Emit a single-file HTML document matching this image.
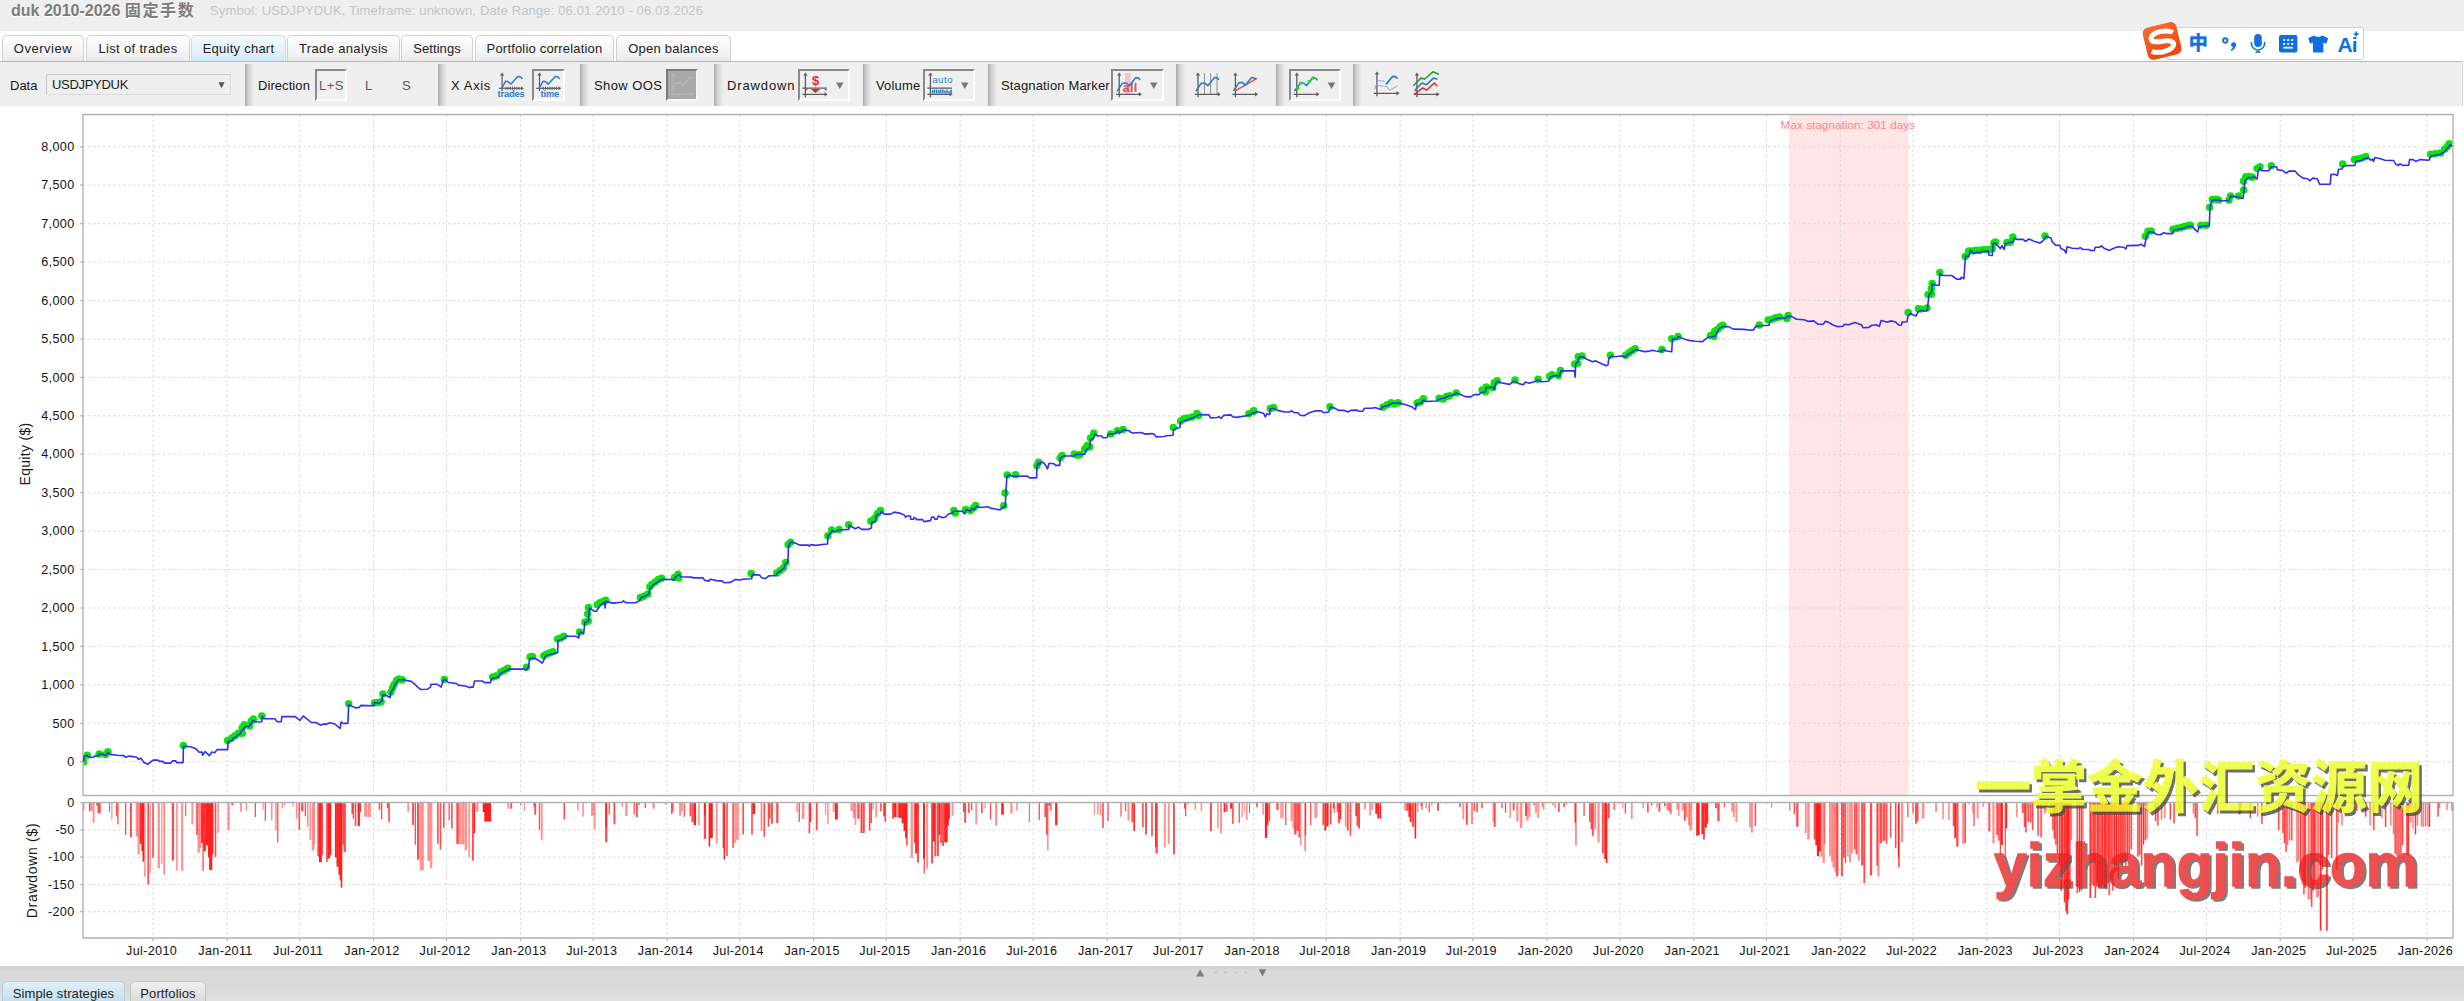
<!DOCTYPE html>
<html><head><meta charset="utf-8"><title>Equity chart</title>
<style>
html,body{margin:0;padding:0;}
body{width:2464px;height:1001px;overflow:hidden;background:#fff;position:relative;font-family:"Liberation Sans","Noto Sans CJK SC",sans-serif;font-size:13px;color:#1c1c1c;}
.abs{position:absolute;}
#titlebar{left:0;top:0;width:2464px;height:31px;background:#efefef;}
#title{left:11px;top:-1px;font-weight:bold;font-size:16px;color:#7c7c7c;line-height:21px;white-space:nowrap;text-shadow:0 1px 0 #fff;}
#title span{font-family:"Noto Sans CJK SC",sans-serif;font-weight:bold;letter-spacing:1.6px;font-size:16px}
#sub{left:210px;top:1.5px;letter-spacing:0.14px;font-size:13px;color:#c4c4c4;line-height:17px;white-space:nowrap;}
.tab{top:35px;height:27px;border:1px solid #d0d0d0;border-bottom:none;border-radius:5px 5px 0 0;background:linear-gradient(#fefefe,#f4f4f4 60%,#e9e9e9);box-sizing:border-box;text-align:center;line-height:26px;font-size:13px;color:#222;white-space:nowrap;}
.tab.act{background:linear-gradient(#f3fafe,#def0fb 70%,#cfe9f9);border-color:#c5dcea;}
#toolbar{left:0;top:61px;width:2463px;height:45px;background:#efefef;border-top:1.5px solid #b9b9b9;border-right:1.5px solid #d6d6d6;box-sizing:border-box;}
.lbl{top:78px;line-height:16px;font-size:13px;color:#161616;white-space:nowrap;letter-spacing:0.1px;}
.sep{top:64px;width:9px;height:42px;background:linear-gradient(90deg,#a9a9a9,#cfcfcf 35%,#efefef);}
.btn{top:69px;height:32px;box-sizing:border-box;border:2px solid;border-color:#8a8a8a #fff #fff #8a8a8a;background:#f0f0f0;}
.ico{top:71px;}
#combo{left:46px;top:74px;width:185px;height:21px;box-sizing:border-box;border:1px solid;border-color:#c9c9c9 #dedede #dcdcdc #c9c9c9;background:#efefef;line-height:19px;padding-left:5px;font-size:13px;letter-spacing:-0.3px;}
#bottom{left:0;top:966px;width:2464px;height:35px;background:linear-gradient(#cfcfcf,#d9d9d9 12%,#dadada 60%,#e1e1e1);}
.btab{top:981px;height:22px;box-sizing:border-box;border:1px solid #c2c2c2;border-radius:5px 5px 0 0;background:linear-gradient(#f0f0f0,#dcdcdc);font-size:13px;line-height:24px;text-align:center;color:#222;white-space:nowrap;}
.btab.act{background:linear-gradient(#e1f0f8,#c3deee);border-color:#b5cbd8;}
</style></head><body>
<div id="titlebar" class="abs"></div>
<div id="title" class="abs">duk 2010-2026 <span>固定手数</span></div>
<div id="sub" class="abs">Symbol: USDJPYDUK, Timeframe: unknown, Date Range: 06.01.2010 - 06.03.2026</div>

<div class="abs tab" style="left:2px;width:82px;letter-spacing:0.54px">Overview</div>
<div class="abs tab" style="left:86px;width:104px;letter-spacing:0.33px">List of trades</div>
<div class="abs tab act" style="left:191px;width:95px;letter-spacing:0.25px">Equity chart</div>
<div class="abs tab" style="left:287px;width:113px;letter-spacing:0.35px">Trade analysis</div>
<div class="abs tab" style="left:401px;width:72px;letter-spacing:0.08px">Settings</div>
<div class="abs tab" style="left:475px;width:139px;letter-spacing:0.18px">Portfolio correlation</div>
<div class="abs tab" style="left:616px;width:115px;letter-spacing:0.23px">Open balances</div>

<div id="toolbar" class="abs"></div>
<div class="abs lbl" style="left:10px;letter-spacing:0.00px">Data</div>
<div id="combo" class="abs">USDJPYDUK<span class="abs" style="right:4px;top:0;font-size:10px;color:#555">▼</span></div>
<div class="abs sep" style="left:245px"></div>
<div class="abs lbl" style="left:258px;letter-spacing:0.07px">Direction</div>
<div class="abs btn" style="left:315px;width:32px"></div>
<div class="abs lbl" style="left:319px;color:#5a5a5a;letter-spacing:0.5px">L+S</div>
<div class="abs lbl" style="left:365px;color:#5a5a5a">L</div>
<div class="abs lbl" style="left:402px;color:#5a5a5a">S</div>
<div class="abs sep" style="left:438px"></div>
<div class="abs lbl" style="left:451px;letter-spacing:0.65px">X Axis</div>
<!--ICON_TRADES-->
<div class="abs btn" style="left:532px;width:33px"></div>
<!--ICON_TIME-->
<div class="abs sep" style="left:580px"></div>
<div class="abs lbl" style="left:594px;letter-spacing:0.40px">Show OOS</div>
<div class="abs btn" style="left:666px;width:32px;background:#a9a9a9;border-color:#7b7b7b #f6f6f6 #f6f6f6 #7b7b7b"></div>
<!--ICON_OOS-->
<div class="abs sep" style="left:714px"></div>
<div class="abs lbl" style="left:727px;letter-spacing:0.88px">Drawdown</div>
<div class="abs btn" style="left:798px;width:52px"></div>
<!--ICON_DD-->
<div class="abs sep" style="left:863px"></div>
<div class="abs lbl" style="left:876px;letter-spacing:0.15px">Volume</div>
<div class="abs btn" style="left:923px;width:52px"></div>
<!--ICON_VOL-->
<div class="abs sep" style="left:988px"></div>
<div class="abs lbl" style="left:1001px;letter-spacing:0.15px">Stagnation Marker</div>
<div class="abs btn" style="left:1111px;width:53px"></div>
<!--ICON_STAG-->
<div class="abs sep" style="left:1176px"></div>
<!--ICON_A-->
<!--ICON_B-->
<div class="abs sep" style="left:1276px"></div>
<div class="abs btn" style="left:1289px;width:52px"></div>
<!--ICON_C-->
<div class="abs sep" style="left:1353px"></div>
<!--ICON_D-->
<!--ICON_E-->

<div class="abs" style="left:2166px;top:27px;width:198px;height:33px;box-sizing:border-box;border:1.5px solid #c3d4e9;border-radius:3px;background:#fff"></div>
<svg class="abs" style="left:2130px;top:14px" width="250" height="56" viewBox="2130 14 250 56">
<defs><linearGradient id="sg" x1="0" y1="0" x2="0.3" y2="1"><stop offset="0" stop-color="#f66d33"/><stop offset="1" stop-color="#ee470f"/></linearGradient></defs>
<g transform="rotate(-13.5 2162 41)"><rect x="2144.8" y="24.6" width="34.6" height="32.8" rx="5.5" fill="url(#sg)"/>
<path d="M2174.6 35.2 C2169.5 30.6 2155 29.8 2152.2 35.4 C2150 41 2159.6 41 2165 41.6 C2172.5 42.6 2175 46.6 2170 49.8 C2164.5 53 2155 52.2 2149.6 48.6" fill="none" stroke="#fff" stroke-width="5" stroke-linecap="butt"/></g>
<g fill="#0f6fe0">
<text x="2188.8" y="50.4" font-family="Noto Sans CJK SC, sans-serif" font-weight="bold" font-size="19" stroke="#0f6fe0" stroke-width="0.5">中</text>
<circle cx="2225.3" cy="40.5" r="2.2" fill="none" stroke="#0f6fe0" stroke-width="1.9"/>
<path d="M2231 44.8 a2.6 2.6 0 1 1 4.9 1.2 q-0.9 3 -4.2 4.9 l-0.9 -1.1 q1.8 -1.3 2.2 -2.6 a2.6 2.6 0 0 1 -2 -2.4z"/>
<rect x="2254.2" y="34" width="7.6" height="13" rx="3.8"/>
<path d="M2251.4 42 v1.4 a6.6 6.6 0 0 0 13.2 0 v-1.4" fill="none" stroke="#0f6fe0" stroke-width="1.6"/>
<rect x="2255.6" y="51" width="4.8" height="1.8" rx="0.6"/>
<rect x="2279" y="35" width="18.4" height="17.4" rx="2"/>
<g fill="#fff"><rect x="2283.2" y="39.2" width="2" height="1.8"/><rect x="2287.2" y="39.2" width="2" height="1.8"/><rect x="2291.2" y="39.2" width="2" height="1.8"/><rect x="2283.2" y="43" width="2" height="1.8"/><rect x="2287.2" y="43" width="2" height="1.8"/><rect x="2291.2" y="43" width="2" height="1.8"/><rect x="2283.4" y="46.8" width="9.6" height="1.8"/></g>
<path d="M2313.8 35.6 q4.4 2.6 8.8 0 l5.6 2.6 l-1.8 5.4 l-3 -0.9 v9.7 h-10.4 v-9.7 l-3 0.9 l-1.8 -5.4z"/>
<text x="2337.5" y="51.6" font-family="Liberation Sans, sans-serif" font-weight="bold" font-size="21" letter-spacing="-0.8">Ai</text>
<path d="M2356.2 30.6 l1 2.3 l2.3 1 l-2.3 1 l-1 2.3 l-1 -2.3 l-2.3 -1 l2.3 -1z"/>
</g></svg>

<div id="bottom" class="abs"></div>
<div class="abs btab act" style="left:2px;width:123px;letter-spacing:0.10px">Simple strategies</div>
<div class="abs btab" style="left:130px;width:76px;letter-spacing:0.13px">Portfolios</div>

<svg width="2464" height="1001" viewBox="0 0 2464 1001" style="position:absolute;left:0;top:0">
<rect x="1789" y="115" width="119.7" height="680.5" fill="#ffe5e5"/>
<path d="M153.1 114.5 V795.5M153.1 802.5 V938.0M227.0 114.5 V795.5M227.0 802.5 V938.0M299.7 114.5 V795.5M299.7 802.5 V938.0M373.5 114.5 V795.5M373.5 802.5 V938.0M446.6 114.5 V795.5M446.6 802.5 V938.0M520.5 114.5 V795.5M520.5 802.5 V938.0M593.2 114.5 V795.5M593.2 802.5 V938.0M667.0 114.5 V795.5M667.0 802.5 V938.0M739.7 114.5 V795.5M739.7 802.5 V938.0M813.6 114.5 V795.5M813.6 802.5 V938.0M886.3 114.5 V795.5M886.3 802.5 V938.0M960.2 114.5 V795.5M960.2 802.5 V938.0M1033.2 114.5 V795.5M1033.2 802.5 V938.0M1107.1 114.5 V795.5M1107.1 802.5 V938.0M1179.8 114.5 V795.5M1179.8 802.5 V938.0M1253.7 114.5 V795.5M1253.7 802.5 V938.0M1326.3 114.5 V795.5M1326.3 802.5 V938.0M1400.2 114.5 V795.5M1400.2 802.5 V938.0M1472.9 114.5 V795.5M1472.9 802.5 V938.0M1546.8 114.5 V795.5M1546.8 802.5 V938.0M1619.8 114.5 V795.5M1619.8 802.5 V938.0M1693.7 114.5 V795.5M1693.7 802.5 V938.0M1766.4 114.5 V795.5M1766.4 802.5 V938.0M1840.3 114.5 V795.5M1840.3 802.5 V938.0M1913.0 114.5 V795.5M1913.0 802.5 V938.0M1986.8 114.5 V795.5M1986.8 802.5 V938.0M2059.5 114.5 V795.5M2059.5 802.5 V938.0M2133.4 114.5 V795.5M2133.4 802.5 V938.0M2206.5 114.5 V795.5M2206.5 802.5 V938.0M2280.3 114.5 V795.5M2280.3 802.5 V938.0M2353.0 114.5 V795.5M2353.0 802.5 V938.0M2426.9 114.5 V795.5M2426.9 802.5 V938.0M83.0 761.7 H2453.0M83.0 723.3 H2453.0M83.0 684.8 H2453.0M83.0 646.4 H2453.0M83.0 608.0 H2453.0M83.0 569.5 H2453.0M83.0 531.1 H2453.0M83.0 492.7 H2453.0M83.0 454.2 H2453.0M83.0 415.8 H2453.0M83.0 377.4 H2453.0M83.0 339.0 H2453.0M83.0 300.5 H2453.0M83.0 262.1 H2453.0M83.0 223.7 H2453.0M83.0 185.2 H2453.0M83.0 146.8 H2453.0M83.0 830.0 H2453.0M83.0 857.2 H2453.0M83.0 884.5 H2453.0M83.0 911.7 H2453.0" stroke="#d9d9d9" stroke-width="1" stroke-dasharray="2.5 2.5" fill="none"/>
<rect x="82.4" y="803" width="2.1" height="6.8" fill="#ff1a1a" fill-opacity="0.48"/>
<rect x="88.9" y="803" width="1.6" height="8.4" fill="#ff1a1a" fill-opacity="0.78"/>
<rect x="90.6" y="803" width="2.1" height="7.6" fill="#ff1a1a" fill-opacity="0.48"/>
<rect x="92.7" y="803" width="1.9" height="19.8" fill="#ff1a1a" fill-opacity="0.48"/>
<rect x="96.2" y="803" width="1.6" height="2.7" fill="#ff1a1a" fill-opacity="0.78"/>
<rect x="97.5" y="803" width="3.2" height="10.5" fill="#ff1a1a" fill-opacity="0.78"/>
<rect x="108.9" y="803" width="1.1" height="8.9" fill="#ff1a1a" fill-opacity="0.78"/>
<rect x="111.2" y="803" width="1.3" height="16.5" fill="#ff1a1a" fill-opacity="0.48"/>
<rect x="116.0" y="803" width="1.3" height="13.3" fill="#ff1a1a" fill-opacity="0.78"/>
<rect x="117.3" y="803" width="1.3" height="21.4" fill="#ff1a1a" fill-opacity="0.78"/>
<rect x="125.0" y="803" width="1.3" height="32.0" fill="#ff1a1a" fill-opacity="0.78"/>
<rect x="130.0" y="803" width="1.9" height="34.4" fill="#ff1a1a" fill-opacity="0.78"/>
<rect x="135.7" y="803" width="2.4" height="33.6" fill="#ff1a1a" fill-opacity="0.48"/>
<rect x="137.6" y="803" width="2.1" height="51.4" fill="#ff1a1a" fill-opacity="0.48"/>
<rect x="139.7" y="803" width="1.9" height="40.9" fill="#ff1a1a" fill-opacity="0.97"/>
<rect x="141.4" y="803" width="1.9" height="48.2" fill="#ff1a1a" fill-opacity="0.97"/>
<rect x="142.5" y="803" width="1.6" height="58.7" fill="#ff1a1a" fill-opacity="0.97"/>
<rect x="144.1" y="803" width="1.6" height="73.8" fill="#ff1a1a" fill-opacity="0.48"/>
<rect x="147.4" y="803" width="1.6" height="81.5" fill="#ff1a1a" fill-opacity="0.78"/>
<rect x="149.5" y="803" width="1.3" height="70.6" fill="#ff1a1a" fill-opacity="0.48"/>
<rect x="152.2" y="803" width="1.6" height="54.7" fill="#ff1a1a" fill-opacity="0.78"/>
<rect x="157.6" y="803" width="2.3" height="65.2" fill="#ff1a1a" fill-opacity="0.48"/>
<rect x="161.2" y="803" width="1.3" height="61.2" fill="#ff1a1a" fill-opacity="0.48"/>
<rect x="163.6" y="803" width="1.1" height="71.7" fill="#ff1a1a" fill-opacity="0.78"/>
<rect x="171.7" y="803" width="2.4" height="57.6" fill="#ff1a1a" fill-opacity="0.78"/>
<rect x="176.1" y="803" width="1.6" height="67.7" fill="#ff1a1a" fill-opacity="0.48"/>
<rect x="181.1" y="803" width="2.1" height="67.7" fill="#ff1a1a" fill-opacity="0.48"/>
<rect x="185.2" y="803" width="1.1" height="13.3" fill="#ff1a1a" fill-opacity="0.78"/>
<rect x="191.4" y="803" width="1.9" height="21.4" fill="#ff1a1a" fill-opacity="0.48"/>
<rect x="196.2" y="803" width="1.6" height="32.0" fill="#ff1a1a" fill-opacity="0.78"/>
<rect x="197.5" y="803" width="2.3" height="49.8" fill="#ff1a1a" fill-opacity="0.48"/>
<rect x="199.5" y="803" width="1.6" height="44.9" fill="#ff1a1a" fill-opacity="0.48"/>
<rect x="201.1" y="803" width="1.9" height="40.1" fill="#ff1a1a" fill-opacity="0.97"/>
<rect x="202.4" y="803" width="1.3" height="68.0" fill="#ff1a1a" fill-opacity="0.78"/>
<rect x="203.4" y="803" width="2.4" height="48.2" fill="#ff1a1a" fill-opacity="0.97"/>
<rect x="205.8" y="803" width="2.4" height="42.5" fill="#ff1a1a" fill-opacity="0.97"/>
<rect x="207.9" y="803" width="1.6" height="54.4" fill="#ff1a1a" fill-opacity="0.97"/>
<rect x="209.1" y="803" width="3.2" height="66.9" fill="#ff1a1a" fill-opacity="0.97"/>
<rect x="211.8" y="803" width="1.6" height="51.4" fill="#ff1a1a" fill-opacity="0.97"/>
<rect x="214.7" y="803" width="1.6" height="53.9" fill="#ff1a1a" fill-opacity="0.78"/>
<rect x="217.3" y="803" width="1.6" height="30.0" fill="#ff1a1a" fill-opacity="0.48"/>
<rect x="227.4" y="803" width="2.3" height="26.8" fill="#ff1a1a" fill-opacity="0.48"/>
<rect x="231.3" y="803" width="2.1" height="2.4" fill="#ff1a1a" fill-opacity="0.78"/>
<rect x="240.1" y="803" width="1.9" height="8.7" fill="#ff1a1a" fill-opacity="0.48"/>
<rect x="245.6" y="803" width="1.6" height="7.6" fill="#ff1a1a" fill-opacity="0.48"/>
<rect x="254.7" y="803" width="1.3" height="14.1" fill="#ff1a1a" fill-opacity="0.78"/>
<rect x="262.5" y="803" width="1.3" height="6.8" fill="#ff1a1a" fill-opacity="0.48"/>
<rect x="264.7" y="803" width="1.3" height="17.7" fill="#ff1a1a" fill-opacity="0.78"/>
<rect x="270.9" y="803" width="1.6" height="17.4" fill="#ff1a1a" fill-opacity="0.48"/>
<rect x="275.1" y="803" width="1.6" height="27.1" fill="#ff1a1a" fill-opacity="0.48"/>
<rect x="277.1" y="803" width="1.3" height="39.3" fill="#ff1a1a" fill-opacity="0.78"/>
<rect x="281.6" y="803" width="1.6" height="5.2" fill="#ff1a1a" fill-opacity="0.48"/>
<rect x="283.9" y="803" width="1.3" height="2.7" fill="#ff1a1a" fill-opacity="0.48"/>
<rect x="292.3" y="803" width="1.3" height="3.6" fill="#ff1a1a" fill-opacity="0.48"/>
<rect x="295.9" y="803" width="1.6" height="16.1" fill="#ff1a1a" fill-opacity="0.48"/>
<rect x="298.5" y="803" width="1.6" height="26.8" fill="#ff1a1a" fill-opacity="0.78"/>
<rect x="301.1" y="803" width="2.3" height="8.4" fill="#ff1a1a" fill-opacity="0.78"/>
<rect x="304.7" y="803" width="1.3" height="13.3" fill="#ff1a1a" fill-opacity="0.78"/>
<rect x="306.9" y="803" width="1.6" height="23.8" fill="#ff1a1a" fill-opacity="0.48"/>
<rect x="309.5" y="803" width="1.6" height="36.8" fill="#ff1a1a" fill-opacity="0.48"/>
<rect x="311.8" y="803" width="2.6" height="47.4" fill="#ff1a1a" fill-opacity="0.48"/>
<rect x="313.8" y="803" width="1.0" height="41.7" fill="#ff1a1a" fill-opacity="0.48"/>
<rect x="317.3" y="803" width="1.9" height="53.4" fill="#ff1a1a" fill-opacity="0.78"/>
<rect x="319.0" y="803" width="2.9" height="59.2" fill="#ff1a1a" fill-opacity="0.97"/>
<rect x="321.9" y="803" width="1.1" height="52.3" fill="#ff1a1a" fill-opacity="0.78"/>
<rect x="326.1" y="803" width="1.6" height="59.2" fill="#ff1a1a" fill-opacity="0.78"/>
<rect x="327.4" y="803" width="2.6" height="55.5" fill="#ff1a1a" fill-opacity="0.97"/>
<rect x="329.7" y="803" width="1.6" height="52.3" fill="#ff1a1a" fill-opacity="0.97"/>
<rect x="334.9" y="803" width="1.9" height="54.4" fill="#ff1a1a" fill-opacity="0.97"/>
<rect x="336.5" y="803" width="2.3" height="63.6" fill="#ff1a1a" fill-opacity="0.97"/>
<rect x="338.4" y="803" width="1.6" height="71.7" fill="#ff1a1a" fill-opacity="0.97"/>
<rect x="339.7" y="803" width="1.6" height="77.4" fill="#ff1a1a" fill-opacity="0.97"/>
<rect x="340.7" y="803" width="1.6" height="84.7" fill="#ff1a1a" fill-opacity="0.97"/>
<rect x="342.3" y="803" width="1.6" height="41.7" fill="#ff1a1a" fill-opacity="0.78"/>
<rect x="343.6" y="803" width="2.3" height="49.0" fill="#ff1a1a" fill-opacity="0.78"/>
<rect x="351.4" y="803" width="1.6" height="10.9" fill="#ff1a1a" fill-opacity="0.78"/>
<rect x="352.7" y="803" width="1.3" height="15.7" fill="#ff1a1a" fill-opacity="0.78"/>
<rect x="354.7" y="803" width="1.6" height="23.0" fill="#ff1a1a" fill-opacity="0.78"/>
<rect x="357.6" y="803" width="2.3" height="23.0" fill="#ff1a1a" fill-opacity="0.97"/>
<rect x="359.9" y="803" width="1.0" height="9.2" fill="#ff1a1a" fill-opacity="0.97"/>
<rect x="364.1" y="803" width="3.2" height="13.8" fill="#ff1a1a" fill-opacity="0.48"/>
<rect x="367.7" y="803" width="3.2" height="14.1" fill="#ff1a1a" fill-opacity="0.48"/>
<rect x="378.7" y="803" width="1.6" height="6.8" fill="#ff1a1a" fill-opacity="0.78"/>
<rect x="381.0" y="803" width="1.3" height="16.1" fill="#ff1a1a" fill-opacity="0.78"/>
<rect x="386.8" y="803" width="1.6" height="5.2" fill="#ff1a1a" fill-opacity="0.78"/>
<rect x="388.4" y="803" width="1.3" height="19.3" fill="#ff1a1a" fill-opacity="0.97"/>
<rect x="407.3" y="803" width="1.9" height="8.7" fill="#ff1a1a" fill-opacity="0.48"/>
<rect x="412.1" y="803" width="1.9" height="21.9" fill="#ff1a1a" fill-opacity="0.78"/>
<rect x="414.7" y="803" width="1.3" height="41.7" fill="#ff1a1a" fill-opacity="0.78"/>
<rect x="417.0" y="803" width="2.3" height="56.6" fill="#ff1a1a" fill-opacity="0.78"/>
<rect x="419.9" y="803" width="3.9" height="67.4" fill="#ff1a1a" fill-opacity="0.48"/>
<rect x="427.4" y="803" width="2.6" height="57.9" fill="#ff1a1a" fill-opacity="0.48"/>
<rect x="430.0" y="803" width="2.3" height="65.2" fill="#ff1a1a" fill-opacity="0.48"/>
<rect x="437.1" y="803" width="1.6" height="40.9" fill="#ff1a1a" fill-opacity="0.78"/>
<rect x="439.7" y="803" width="1.6" height="46.6" fill="#ff1a1a" fill-opacity="0.78"/>
<rect x="443.0" y="803" width="1.6" height="24.7" fill="#ff1a1a" fill-opacity="0.78"/>
<rect x="448.5" y="803" width="1.3" height="17.4" fill="#ff1a1a" fill-opacity="0.78"/>
<rect x="451.1" y="803" width="1.6" height="25.5" fill="#ff1a1a" fill-opacity="0.78"/>
<rect x="456.3" y="803" width="2.6" height="40.9" fill="#ff1a1a" fill-opacity="0.78"/>
<rect x="459.2" y="803" width="2.3" height="41.4" fill="#ff1a1a" fill-opacity="0.48"/>
<rect x="461.8" y="803" width="2.6" height="41.4" fill="#ff1a1a" fill-opacity="0.48"/>
<rect x="464.7" y="803" width="2.3" height="47.4" fill="#ff1a1a" fill-opacity="0.48"/>
<rect x="468.3" y="803" width="1.6" height="53.9" fill="#ff1a1a" fill-opacity="0.48"/>
<rect x="471.9" y="803" width="1.9" height="57.6" fill="#ff1a1a" fill-opacity="0.78"/>
<rect x="473.6" y="803" width="1.6" height="30.3" fill="#ff1a1a" fill-opacity="0.97"/>
<rect x="476.2" y="803" width="2.3" height="8.7" fill="#ff1a1a" fill-opacity="0.48"/>
<rect x="482.7" y="803" width="2.3" height="9.2" fill="#ff1a1a" fill-opacity="0.97"/>
<rect x="484.3" y="803" width="6.8" height="18.6" fill="#ff1a1a" fill-opacity="0.97"/>
<rect x="507.3" y="803" width="1.6" height="6.0" fill="#ff1a1a" fill-opacity="0.48"/>
<rect x="510.3" y="803" width="1.9" height="5.7" fill="#ff1a1a" fill-opacity="0.78"/>
<rect x="520.0" y="803" width="1.6" height="2.7" fill="#ff1a1a" fill-opacity="0.48"/>
<rect x="523.9" y="803" width="1.3" height="7.9" fill="#ff1a1a" fill-opacity="0.48"/>
<rect x="533.0" y="803" width="1.9" height="4.4" fill="#ff1a1a" fill-opacity="0.48"/>
<rect x="534.3" y="803" width="1.9" height="11.7" fill="#ff1a1a" fill-opacity="0.78"/>
<rect x="538.8" y="803" width="1.3" height="26.8" fill="#ff1a1a" fill-opacity="0.78"/>
<rect x="540.8" y="803" width="1.9" height="37.2" fill="#ff1a1a" fill-opacity="0.48"/>
<rect x="563.5" y="803" width="1.6" height="16.5" fill="#ff1a1a" fill-opacity="0.78"/>
<rect x="577.1" y="803" width="1.6" height="7.6" fill="#ff1a1a" fill-opacity="0.48"/>
<rect x="582.3" y="803" width="1.6" height="13.6" fill="#ff1a1a" fill-opacity="0.48"/>
<rect x="591.1" y="803" width="2.6" height="12.8" fill="#ff1a1a" fill-opacity="0.48"/>
<rect x="593.7" y="803" width="1.9" height="26.3" fill="#ff1a1a" fill-opacity="0.48"/>
<rect x="605.1" y="803" width="2.3" height="39.3" fill="#ff1a1a" fill-opacity="0.78"/>
<rect x="605.4" y="803" width="1.3" height="23.8" fill="#ff1a1a" fill-opacity="0.97"/>
<rect x="608.6" y="803" width="1.3" height="11.7" fill="#ff1a1a" fill-opacity="0.78"/>
<rect x="613.5" y="803" width="1.9" height="21.4" fill="#ff1a1a" fill-opacity="0.78"/>
<rect x="621.6" y="803" width="1.6" height="4.0" fill="#ff1a1a" fill-opacity="0.48"/>
<rect x="625.2" y="803" width="2.3" height="13.0" fill="#ff1a1a" fill-opacity="0.48"/>
<rect x="633.6" y="803" width="1.3" height="11.3" fill="#ff1a1a" fill-opacity="0.78"/>
<rect x="635.9" y="803" width="1.9" height="14.1" fill="#ff1a1a" fill-opacity="0.78"/>
<rect x="638.2" y="803" width="1.6" height="1.9" fill="#ff1a1a" fill-opacity="0.78"/>
<rect x="644.7" y="803" width="1.3" height="5.2" fill="#ff1a1a" fill-opacity="0.78"/>
<rect x="652.5" y="803" width="2.3" height="5.7" fill="#ff1a1a" fill-opacity="0.48"/>
<rect x="664.8" y="803" width="1.6" height="1.9" fill="#ff1a1a" fill-opacity="0.48"/>
<rect x="671.0" y="803" width="1.6" height="11.2" fill="#ff1a1a" fill-opacity="0.78"/>
<rect x="672.3" y="803" width="1.3" height="8.4" fill="#ff1a1a" fill-opacity="0.78"/>
<rect x="679.1" y="803" width="1.9" height="12.8" fill="#ff1a1a" fill-opacity="0.48"/>
<rect x="681.0" y="803" width="1.9" height="8.4" fill="#ff1a1a" fill-opacity="0.48"/>
<rect x="683.6" y="803" width="1.3" height="13.8" fill="#ff1a1a" fill-opacity="0.78"/>
<rect x="689.5" y="803" width="1.6" height="13.3" fill="#ff1a1a" fill-opacity="0.78"/>
<rect x="691.4" y="803" width="2.3" height="19.3" fill="#ff1a1a" fill-opacity="0.78"/>
<rect x="693.7" y="803" width="2.3" height="22.2" fill="#ff1a1a" fill-opacity="0.97"/>
<rect x="698.2" y="803" width="1.6" height="22.5" fill="#ff1a1a" fill-opacity="0.48"/>
<rect x="703.8" y="803" width="2.3" height="36.0" fill="#ff1a1a" fill-opacity="0.78"/>
<rect x="704.1" y="803" width="1.6" height="12.5" fill="#ff1a1a" fill-opacity="0.97"/>
<rect x="708.6" y="803" width="1.6" height="43.6" fill="#ff1a1a" fill-opacity="0.97"/>
<rect x="709.9" y="803" width="2.9" height="35.2" fill="#ff1a1a" fill-opacity="0.97"/>
<rect x="715.8" y="803" width="1.9" height="40.9" fill="#ff1a1a" fill-opacity="0.48"/>
<rect x="722.6" y="803" width="1.6" height="45.3" fill="#ff1a1a" fill-opacity="0.78"/>
<rect x="723.6" y="803" width="1.6" height="56.6" fill="#ff1a1a" fill-opacity="0.97"/>
<rect x="726.2" y="803" width="1.6" height="53.1" fill="#ff1a1a" fill-opacity="0.78"/>
<rect x="732.3" y="803" width="1.6" height="44.9" fill="#ff1a1a" fill-opacity="0.78"/>
<rect x="734.3" y="803" width="1.9" height="40.1" fill="#ff1a1a" fill-opacity="0.48"/>
<rect x="736.2" y="803" width="2.6" height="36.8" fill="#ff1a1a" fill-opacity="0.48"/>
<rect x="742.4" y="803" width="1.6" height="31.5" fill="#ff1a1a" fill-opacity="0.78"/>
<rect x="751.2" y="803" width="1.6" height="31.5" fill="#ff1a1a" fill-opacity="0.78"/>
<rect x="752.5" y="803" width="2.6" height="11.2" fill="#ff1a1a" fill-opacity="0.97"/>
<rect x="760.6" y="803" width="1.9" height="27.9" fill="#ff1a1a" fill-opacity="0.48"/>
<rect x="763.5" y="803" width="1.6" height="33.9" fill="#ff1a1a" fill-opacity="0.78"/>
<rect x="767.7" y="803" width="1.6" height="23.8" fill="#ff1a1a" fill-opacity="0.78"/>
<rect x="769.0" y="803" width="1.6" height="15.7" fill="#ff1a1a" fill-opacity="0.78"/>
<rect x="771.0" y="803" width="1.9" height="20.6" fill="#ff1a1a" fill-opacity="0.78"/>
<rect x="776.2" y="803" width="2.3" height="20.3" fill="#ff1a1a" fill-opacity="0.78"/>
<rect x="796.3" y="803" width="1.6" height="9.2" fill="#ff1a1a" fill-opacity="0.48"/>
<rect x="798.6" y="803" width="1.3" height="19.0" fill="#ff1a1a" fill-opacity="0.78"/>
<rect x="801.8" y="803" width="2.6" height="16.1" fill="#ff1a1a" fill-opacity="0.48"/>
<rect x="808.6" y="803" width="1.6" height="30.3" fill="#ff1a1a" fill-opacity="0.78"/>
<rect x="809.9" y="803" width="1.3" height="19.0" fill="#ff1a1a" fill-opacity="0.97"/>
<rect x="815.8" y="803" width="1.9" height="27.1" fill="#ff1a1a" fill-opacity="0.78"/>
<rect x="824.9" y="803" width="1.3" height="11.7" fill="#ff1a1a" fill-opacity="0.48"/>
<rect x="827.1" y="803" width="1.6" height="20.6" fill="#ff1a1a" fill-opacity="0.48"/>
<rect x="832.7" y="803" width="1.9" height="8.9" fill="#ff1a1a" fill-opacity="0.48"/>
<rect x="834.9" y="803" width="2.9" height="16.5" fill="#ff1a1a" fill-opacity="0.97"/>
<rect x="850.5" y="803" width="2.3" height="7.9" fill="#ff1a1a" fill-opacity="0.48"/>
<rect x="852.8" y="803" width="2.3" height="15.4" fill="#ff1a1a" fill-opacity="0.48"/>
<rect x="854.7" y="803" width="1.6" height="22.2" fill="#ff1a1a" fill-opacity="0.48"/>
<rect x="857.3" y="803" width="2.3" height="15.7" fill="#ff1a1a" fill-opacity="0.78"/>
<rect x="860.9" y="803" width="1.9" height="30.0" fill="#ff1a1a" fill-opacity="0.48"/>
<rect x="860.6" y="803" width="1.6" height="30.0" fill="#ff1a1a" fill-opacity="0.78"/>
<rect x="862.9" y="803" width="1.9" height="30.0" fill="#ff1a1a" fill-opacity="0.78"/>
<rect x="868.8" y="803" width="1.6" height="27.6" fill="#ff1a1a" fill-opacity="0.78"/>
<rect x="870.4" y="803" width="1.6" height="20.1" fill="#ff1a1a" fill-opacity="0.78"/>
<rect x="872.3" y="803" width="1.6" height="6.8" fill="#ff1a1a" fill-opacity="0.48"/>
<rect x="875.3" y="803" width="1.9" height="14.4" fill="#ff1a1a" fill-opacity="0.48"/>
<rect x="880.1" y="803" width="1.6" height="8.4" fill="#ff1a1a" fill-opacity="0.78"/>
<rect x="883.1" y="803" width="1.9" height="13.3" fill="#ff1a1a" fill-opacity="0.78"/>
<rect x="884.4" y="803" width="1.6" height="19.0" fill="#ff1a1a" fill-opacity="0.78"/>
<rect x="892.1" y="803" width="1.9" height="15.7" fill="#ff1a1a" fill-opacity="0.78"/>
<rect x="893.8" y="803" width="2.3" height="14.1" fill="#ff1a1a" fill-opacity="0.97"/>
<rect x="896.0" y="803" width="2.3" height="14.4" fill="#ff1a1a" fill-opacity="0.48"/>
<rect x="898.3" y="803" width="3.6" height="14.9" fill="#ff1a1a" fill-opacity="0.97"/>
<rect x="901.6" y="803" width="2.3" height="20.3" fill="#ff1a1a" fill-opacity="0.97"/>
<rect x="903.5" y="803" width="2.3" height="27.9" fill="#ff1a1a" fill-opacity="0.97"/>
<rect x="905.1" y="803" width="1.9" height="34.9" fill="#ff1a1a" fill-opacity="0.97"/>
<rect x="906.1" y="803" width="1.6" height="42.5" fill="#ff1a1a" fill-opacity="0.78"/>
<rect x="910.6" y="803" width="2.3" height="55.0" fill="#ff1a1a" fill-opacity="0.48"/>
<rect x="913.9" y="803" width="1.9" height="40.1" fill="#ff1a1a" fill-opacity="0.78"/>
<rect x="915.2" y="803" width="2.3" height="50.6" fill="#ff1a1a" fill-opacity="0.97"/>
<rect x="917.1" y="803" width="1.9" height="59.6" fill="#ff1a1a" fill-opacity="0.78"/>
<rect x="923.0" y="803" width="1.9" height="55.5" fill="#ff1a1a" fill-opacity="0.97"/>
<rect x="923.6" y="803" width="1.3" height="70.6" fill="#ff1a1a" fill-opacity="0.78"/>
<rect x="926.2" y="803" width="1.9" height="65.7" fill="#ff1a1a" fill-opacity="0.48"/>
<rect x="931.1" y="803" width="1.9" height="60.4" fill="#ff1a1a" fill-opacity="0.78"/>
<rect x="932.7" y="803" width="2.3" height="38.5" fill="#ff1a1a" fill-opacity="0.97"/>
<rect x="934.4" y="803" width="1.6" height="53.4" fill="#ff1a1a" fill-opacity="0.78"/>
<rect x="936.6" y="803" width="2.3" height="53.1" fill="#ff1a1a" fill-opacity="0.78"/>
<rect x="938.6" y="803" width="1.6" height="32.0" fill="#ff1a1a" fill-opacity="0.97"/>
<rect x="940.2" y="803" width="1.9" height="40.1" fill="#ff1a1a" fill-opacity="0.78"/>
<rect x="942.1" y="803" width="1.9" height="43.0" fill="#ff1a1a" fill-opacity="0.78"/>
<rect x="944.1" y="803" width="1.9" height="39.3" fill="#ff1a1a" fill-opacity="0.97"/>
<rect x="945.4" y="803" width="2.3" height="39.3" fill="#ff1a1a" fill-opacity="0.97"/>
<rect x="947.0" y="803" width="1.9" height="23.0" fill="#ff1a1a" fill-opacity="0.97"/>
<rect x="948.3" y="803" width="1.6" height="15.7" fill="#ff1a1a" fill-opacity="0.97"/>
<rect x="951.6" y="803" width="1.9" height="12.8" fill="#ff1a1a" fill-opacity="0.48"/>
<rect x="962.9" y="803" width="1.6" height="9.2" fill="#ff1a1a" fill-opacity="0.78"/>
<rect x="964.2" y="803" width="1.9" height="19.8" fill="#ff1a1a" fill-opacity="0.78"/>
<rect x="968.1" y="803" width="1.6" height="10.0" fill="#ff1a1a" fill-opacity="0.78"/>
<rect x="971.0" y="803" width="1.3" height="7.3" fill="#ff1a1a" fill-opacity="0.78"/>
<rect x="975.3" y="803" width="1.9" height="21.4" fill="#ff1a1a" fill-opacity="0.48"/>
<rect x="981.1" y="803" width="1.6" height="10.0" fill="#ff1a1a" fill-opacity="0.78"/>
<rect x="984.4" y="803" width="1.3" height="5.2" fill="#ff1a1a" fill-opacity="0.48"/>
<rect x="989.9" y="803" width="1.3" height="16.5" fill="#ff1a1a" fill-opacity="0.78"/>
<rect x="995.1" y="803" width="2.3" height="22.7" fill="#ff1a1a" fill-opacity="0.48"/>
<rect x="1001.2" y="803" width="2.6" height="11.7" fill="#ff1a1a" fill-opacity="0.97"/>
<rect x="1010.3" y="803" width="2.3" height="10.5" fill="#ff1a1a" fill-opacity="0.48"/>
<rect x="1016.2" y="803" width="1.6" height="7.6" fill="#ff1a1a" fill-opacity="0.48"/>
<rect x="1028.8" y="803" width="1.0" height="19.3" fill="#ff1a1a" fill-opacity="0.78"/>
<rect x="1038.6" y="803" width="1.3" height="16.9" fill="#ff1a1a" fill-opacity="0.78"/>
<rect x="1044.4" y="803" width="1.6" height="14.1" fill="#ff1a1a" fill-opacity="0.78"/>
<rect x="1046.0" y="803" width="1.6" height="31.6" fill="#ff1a1a" fill-opacity="0.78"/>
<rect x="1047.0" y="803" width="1.6" height="47.4" fill="#ff1a1a" fill-opacity="0.48"/>
<rect x="1048.6" y="803" width="1.6" height="2.7" fill="#ff1a1a" fill-opacity="0.97"/>
<rect x="1050.3" y="803" width="1.3" height="7.9" fill="#ff1a1a" fill-opacity="0.78"/>
<rect x="1055.1" y="803" width="2.3" height="22.2" fill="#ff1a1a" fill-opacity="0.97"/>
<rect x="1093.8" y="803" width="1.3" height="11.7" fill="#ff1a1a" fill-opacity="0.48"/>
<rect x="1097.0" y="803" width="1.6" height="11.7" fill="#ff1a1a" fill-opacity="0.48"/>
<rect x="1099.9" y="803" width="1.3" height="12.2" fill="#ff1a1a" fill-opacity="0.48"/>
<rect x="1102.2" y="803" width="1.6" height="25.1" fill="#ff1a1a" fill-opacity="0.78"/>
<rect x="1107.4" y="803" width="1.3" height="18.2" fill="#ff1a1a" fill-opacity="0.78"/>
<rect x="1120.1" y="803" width="1.9" height="13.8" fill="#ff1a1a" fill-opacity="0.48"/>
<rect x="1124.9" y="803" width="1.3" height="8.4" fill="#ff1a1a" fill-opacity="0.78"/>
<rect x="1127.5" y="803" width="1.9" height="17.7" fill="#ff1a1a" fill-opacity="0.48"/>
<rect x="1131.4" y="803" width="1.9" height="19.3" fill="#ff1a1a" fill-opacity="0.78"/>
<rect x="1133.4" y="803" width="1.6" height="27.9" fill="#ff1a1a" fill-opacity="0.97"/>
<rect x="1142.1" y="803" width="1.6" height="24.2" fill="#ff1a1a" fill-opacity="0.78"/>
<rect x="1145.1" y="803" width="1.9" height="31.6" fill="#ff1a1a" fill-opacity="0.78"/>
<rect x="1151.2" y="803" width="1.6" height="33.3" fill="#ff1a1a" fill-opacity="0.78"/>
<rect x="1155.5" y="803" width="2.3" height="50.6" fill="#ff1a1a" fill-opacity="0.78"/>
<rect x="1155.1" y="803" width="1.3" height="44.1" fill="#ff1a1a" fill-opacity="0.97"/>
<rect x="1163.9" y="803" width="1.9" height="44.6" fill="#ff1a1a" fill-opacity="0.48"/>
<rect x="1167.8" y="803" width="1.9" height="40.9" fill="#ff1a1a" fill-opacity="0.48"/>
<rect x="1173.0" y="803" width="1.9" height="51.4" fill="#ff1a1a" fill-opacity="0.78"/>
<rect x="1184.0" y="803" width="1.3" height="5.7" fill="#ff1a1a" fill-opacity="0.78"/>
<rect x="1185.0" y="803" width="1.3" height="13.3" fill="#ff1a1a" fill-opacity="0.78"/>
<rect x="1187.3" y="803" width="1.3" height="1.4" fill="#ff1a1a" fill-opacity="0.78"/>
<rect x="1194.4" y="803" width="1.6" height="6.3" fill="#ff1a1a" fill-opacity="0.48"/>
<rect x="1200.6" y="803" width="1.6" height="7.9" fill="#ff1a1a" fill-opacity="0.48"/>
<rect x="1210.0" y="803" width="1.9" height="28.2" fill="#ff1a1a" fill-opacity="0.78"/>
<rect x="1217.1" y="803" width="1.6" height="25.1" fill="#ff1a1a" fill-opacity="0.48"/>
<rect x="1220.1" y="803" width="1.9" height="30.3" fill="#ff1a1a" fill-opacity="0.48"/>
<rect x="1223.6" y="803" width="1.6" height="9.2" fill="#ff1a1a" fill-opacity="0.97"/>
<rect x="1225.6" y="803" width="1.9" height="8.9" fill="#ff1a1a" fill-opacity="0.78"/>
<rect x="1230.1" y="803" width="1.9" height="5.7" fill="#ff1a1a" fill-opacity="0.97"/>
<rect x="1232.1" y="803" width="1.6" height="20.9" fill="#ff1a1a" fill-opacity="0.78"/>
<rect x="1238.6" y="803" width="1.3" height="19.8" fill="#ff1a1a" fill-opacity="0.78"/>
<rect x="1241.5" y="803" width="1.3" height="14.1" fill="#ff1a1a" fill-opacity="0.48"/>
<rect x="1243.8" y="803" width="1.0" height="10.0" fill="#ff1a1a" fill-opacity="0.48"/>
<rect x="1246.0" y="803" width="1.6" height="17.0" fill="#ff1a1a" fill-opacity="0.48"/>
<rect x="1249.0" y="803" width="1.0" height="10.0" fill="#ff1a1a" fill-opacity="0.78"/>
<rect x="1256.2" y="803" width="1.6" height="4.4" fill="#ff1a1a" fill-opacity="0.78"/>
<rect x="1262.3" y="803" width="1.6" height="11.7" fill="#ff1a1a" fill-opacity="0.48"/>
<rect x="1264.9" y="803" width="2.3" height="34.9" fill="#ff1a1a" fill-opacity="0.97"/>
<rect x="1266.9" y="803" width="1.6" height="22.2" fill="#ff1a1a" fill-opacity="0.97"/>
<rect x="1268.8" y="803" width="1.3" height="18.2" fill="#ff1a1a" fill-opacity="0.78"/>
<rect x="1276.3" y="803" width="2.3" height="6.8" fill="#ff1a1a" fill-opacity="0.78"/>
<rect x="1280.2" y="803" width="1.6" height="15.4" fill="#ff1a1a" fill-opacity="0.48"/>
<rect x="1282.1" y="803" width="1.6" height="15.4" fill="#ff1a1a" fill-opacity="0.48"/>
<rect x="1285.1" y="803" width="1.3" height="22.2" fill="#ff1a1a" fill-opacity="0.78"/>
<rect x="1290.6" y="803" width="1.9" height="18.2" fill="#ff1a1a" fill-opacity="0.48"/>
<rect x="1292.5" y="803" width="1.9" height="25.5" fill="#ff1a1a" fill-opacity="0.48"/>
<rect x="1294.2" y="803" width="2.3" height="31.6" fill="#ff1a1a" fill-opacity="0.78"/>
<rect x="1296.4" y="803" width="2.3" height="27.9" fill="#ff1a1a" fill-opacity="0.78"/>
<rect x="1298.4" y="803" width="1.6" height="34.4" fill="#ff1a1a" fill-opacity="0.78"/>
<rect x="1300.0" y="803" width="1.6" height="42.5" fill="#ff1a1a" fill-opacity="0.48"/>
<rect x="1304.2" y="803" width="1.9" height="48.2" fill="#ff1a1a" fill-opacity="0.48"/>
<rect x="1304.9" y="803" width="1.3" height="32.0" fill="#ff1a1a" fill-opacity="0.78"/>
<rect x="1310.1" y="803" width="1.3" height="22.5" fill="#ff1a1a" fill-opacity="0.78"/>
<rect x="1314.3" y="803" width="1.9" height="15.4" fill="#ff1a1a" fill-opacity="0.48"/>
<rect x="1316.2" y="803" width="1.3" height="14.1" fill="#ff1a1a" fill-opacity="0.48"/>
<rect x="1322.4" y="803" width="1.9" height="21.9" fill="#ff1a1a" fill-opacity="0.78"/>
<rect x="1324.4" y="803" width="1.9" height="27.6" fill="#ff1a1a" fill-opacity="0.97"/>
<rect x="1326.3" y="803" width="2.3" height="23.5" fill="#ff1a1a" fill-opacity="0.97"/>
<rect x="1329.9" y="803" width="1.6" height="21.4" fill="#ff1a1a" fill-opacity="0.78"/>
<rect x="1332.8" y="803" width="1.3" height="5.7" fill="#ff1a1a" fill-opacity="0.78"/>
<rect x="1333.8" y="803" width="1.0" height="10.0" fill="#ff1a1a" fill-opacity="0.78"/>
<rect x="1336.7" y="803" width="1.9" height="8.9" fill="#ff1a1a" fill-opacity="0.78"/>
<rect x="1338.0" y="803" width="1.9" height="20.3" fill="#ff1a1a" fill-opacity="0.78"/>
<rect x="1339.6" y="803" width="1.6" height="16.5" fill="#ff1a1a" fill-opacity="0.97"/>
<rect x="1344.8" y="803" width="1.6" height="23.8" fill="#ff1a1a" fill-opacity="0.48"/>
<rect x="1346.8" y="803" width="1.9" height="27.6" fill="#ff1a1a" fill-opacity="0.78"/>
<rect x="1349.7" y="803" width="1.6" height="32.8" fill="#ff1a1a" fill-opacity="0.78"/>
<rect x="1355.2" y="803" width="1.9" height="13.3" fill="#ff1a1a" fill-opacity="0.78"/>
<rect x="1356.5" y="803" width="1.9" height="23.0" fill="#ff1a1a" fill-opacity="0.78"/>
<rect x="1358.1" y="803" width="1.9" height="25.5" fill="#ff1a1a" fill-opacity="0.78"/>
<rect x="1364.0" y="803" width="1.9" height="6.3" fill="#ff1a1a" fill-opacity="0.48"/>
<rect x="1369.2" y="803" width="1.9" height="12.5" fill="#ff1a1a" fill-opacity="0.48"/>
<rect x="1371.4" y="803" width="1.9" height="6.8" fill="#ff1a1a" fill-opacity="0.48"/>
<rect x="1375.3" y="803" width="2.3" height="10.9" fill="#ff1a1a" fill-opacity="0.97"/>
<rect x="1377.3" y="803" width="1.9" height="15.4" fill="#ff1a1a" fill-opacity="0.97"/>
<rect x="1379.5" y="803" width="1.6" height="15.7" fill="#ff1a1a" fill-opacity="0.97"/>
<rect x="1404.2" y="803" width="1.9" height="7.3" fill="#ff1a1a" fill-opacity="0.48"/>
<rect x="1406.2" y="803" width="2.3" height="7.9" fill="#ff1a1a" fill-opacity="0.78"/>
<rect x="1408.4" y="803" width="1.9" height="13.8" fill="#ff1a1a" fill-opacity="0.97"/>
<rect x="1409.7" y="803" width="1.9" height="19.0" fill="#ff1a1a" fill-opacity="0.97"/>
<rect x="1412.0" y="803" width="2.3" height="23.8" fill="#ff1a1a" fill-opacity="0.78"/>
<rect x="1414.6" y="803" width="1.6" height="35.5" fill="#ff1a1a" fill-opacity="0.97"/>
<rect x="1416.6" y="803" width="1.9" height="9.2" fill="#ff1a1a" fill-opacity="0.48"/>
<rect x="1420.5" y="803" width="1.3" height="3.1" fill="#ff1a1a" fill-opacity="0.78"/>
<rect x="1421.4" y="803" width="1.3" height="6.8" fill="#ff1a1a" fill-opacity="0.78"/>
<rect x="1425.3" y="803" width="1.6" height="5.2" fill="#ff1a1a" fill-opacity="0.48"/>
<rect x="1428.6" y="803" width="1.3" height="9.2" fill="#ff1a1a" fill-opacity="0.78"/>
<rect x="1431.2" y="803" width="1.3" height="3.1" fill="#ff1a1a" fill-opacity="0.48"/>
<rect x="1437.0" y="803" width="1.9" height="7.9" fill="#ff1a1a" fill-opacity="0.78"/>
<rect x="1445.1" y="803" width="1.3" height="1.1" fill="#ff1a1a" fill-opacity="0.48"/>
<rect x="1459.1" y="803" width="1.6" height="4.0" fill="#ff1a1a" fill-opacity="0.78"/>
<rect x="1462.3" y="803" width="1.9" height="16.5" fill="#ff1a1a" fill-opacity="0.48"/>
<rect x="1465.9" y="803" width="1.9" height="21.9" fill="#ff1a1a" fill-opacity="0.78"/>
<rect x="1470.8" y="803" width="2.3" height="20.9" fill="#ff1a1a" fill-opacity="0.48"/>
<rect x="1473.7" y="803" width="1.3" height="7.9" fill="#ff1a1a" fill-opacity="0.78"/>
<rect x="1476.3" y="803" width="1.6" height="9.2" fill="#ff1a1a" fill-opacity="0.78"/>
<rect x="1481.2" y="803" width="1.6" height="5.2" fill="#ff1a1a" fill-opacity="0.78"/>
<rect x="1492.5" y="803" width="1.6" height="19.0" fill="#ff1a1a" fill-opacity="0.48"/>
<rect x="1493.8" y="803" width="1.9" height="23.8" fill="#ff1a1a" fill-opacity="0.78"/>
<rect x="1501.3" y="803" width="1.3" height="5.2" fill="#ff1a1a" fill-opacity="0.78"/>
<rect x="1504.9" y="803" width="1.3" height="9.7" fill="#ff1a1a" fill-opacity="0.78"/>
<rect x="1509.4" y="803" width="1.6" height="15.4" fill="#ff1a1a" fill-opacity="0.48"/>
<rect x="1512.7" y="803" width="1.9" height="7.3" fill="#ff1a1a" fill-opacity="0.78"/>
<rect x="1516.2" y="803" width="2.3" height="18.6" fill="#ff1a1a" fill-opacity="0.48"/>
<rect x="1519.8" y="803" width="2.6" height="25.1" fill="#ff1a1a" fill-opacity="0.48"/>
<rect x="1525.0" y="803" width="1.9" height="13.3" fill="#ff1a1a" fill-opacity="0.78"/>
<rect x="1526.3" y="803" width="2.3" height="17.7" fill="#ff1a1a" fill-opacity="0.48"/>
<rect x="1528.6" y="803" width="1.9" height="14.1" fill="#ff1a1a" fill-opacity="0.48"/>
<rect x="1533.1" y="803" width="1.9" height="2.7" fill="#ff1a1a" fill-opacity="0.48"/>
<rect x="1535.1" y="803" width="1.9" height="10.0" fill="#ff1a1a" fill-opacity="0.48"/>
<rect x="1537.3" y="803" width="1.9" height="14.9" fill="#ff1a1a" fill-opacity="0.48"/>
<rect x="1541.6" y="803" width="1.6" height="4.0" fill="#ff1a1a" fill-opacity="0.48"/>
<rect x="1542.9" y="803" width="1.6" height="6.8" fill="#ff1a1a" fill-opacity="0.48"/>
<rect x="1552.3" y="803" width="1.6" height="2.7" fill="#ff1a1a" fill-opacity="0.48"/>
<rect x="1554.5" y="803" width="1.3" height="5.2" fill="#ff1a1a" fill-opacity="0.48"/>
<rect x="1558.1" y="803" width="1.6" height="9.2" fill="#ff1a1a" fill-opacity="0.78"/>
<rect x="1563.3" y="803" width="1.6" height="4.0" fill="#ff1a1a" fill-opacity="0.78"/>
<rect x="1565.6" y="803" width="1.6" height="1.9" fill="#ff1a1a" fill-opacity="0.48"/>
<rect x="1574.4" y="803" width="1.6" height="19.8" fill="#ff1a1a" fill-opacity="0.78"/>
<rect x="1575.0" y="803" width="1.9" height="42.5" fill="#ff1a1a" fill-opacity="0.48"/>
<rect x="1583.4" y="803" width="1.3" height="13.0" fill="#ff1a1a" fill-opacity="0.78"/>
<rect x="1589.0" y="803" width="1.6" height="19.0" fill="#ff1a1a" fill-opacity="0.78"/>
<rect x="1590.6" y="803" width="1.6" height="26.3" fill="#ff1a1a" fill-opacity="0.78"/>
<rect x="1591.9" y="803" width="1.9" height="32.8" fill="#ff1a1a" fill-opacity="0.78"/>
<rect x="1594.2" y="803" width="1.9" height="26.3" fill="#ff1a1a" fill-opacity="0.48"/>
<rect x="1597.4" y="803" width="2.3" height="39.3" fill="#ff1a1a" fill-opacity="0.48"/>
<rect x="1601.9" y="803" width="1.9" height="50.6" fill="#ff1a1a" fill-opacity="0.78"/>
<rect x="1604.2" y="803" width="2.3" height="56.0" fill="#ff1a1a" fill-opacity="0.97"/>
<rect x="1605.8" y="803" width="1.6" height="59.9" fill="#ff1a1a" fill-opacity="0.97"/>
<rect x="1607.8" y="803" width="1.9" height="15.4" fill="#ff1a1a" fill-opacity="0.78"/>
<rect x="1613.6" y="803" width="1.3" height="6.8" fill="#ff1a1a" fill-opacity="0.78"/>
<rect x="1617.2" y="803" width="1.3" height="1.1" fill="#ff1a1a" fill-opacity="0.48"/>
<rect x="1622.1" y="803" width="1.3" height="5.2" fill="#ff1a1a" fill-opacity="0.48"/>
<rect x="1624.7" y="803" width="1.3" height="10.5" fill="#ff1a1a" fill-opacity="0.78"/>
<rect x="1630.8" y="803" width="1.9" height="16.1" fill="#ff1a1a" fill-opacity="0.48"/>
<rect x="1642.3" y="803" width="1.6" height="5.2" fill="#ff1a1a" fill-opacity="0.48"/>
<rect x="1647.1" y="803" width="1.6" height="9.6" fill="#ff1a1a" fill-opacity="0.78"/>
<rect x="1651.0" y="803" width="1.3" height="2.7" fill="#ff1a1a" fill-opacity="0.78"/>
<rect x="1656.2" y="803" width="1.6" height="4.4" fill="#ff1a1a" fill-opacity="0.48"/>
<rect x="1658.5" y="803" width="1.9" height="8.7" fill="#ff1a1a" fill-opacity="0.78"/>
<rect x="1664.0" y="803" width="1.6" height="3.1" fill="#ff1a1a" fill-opacity="0.78"/>
<rect x="1666.3" y="803" width="1.9" height="6.8" fill="#ff1a1a" fill-opacity="0.48"/>
<rect x="1668.2" y="803" width="1.6" height="7.9" fill="#ff1a1a" fill-opacity="0.78"/>
<rect x="1670.2" y="803" width="1.3" height="11.2" fill="#ff1a1a" fill-opacity="0.78"/>
<rect x="1676.4" y="803" width="1.9" height="6.8" fill="#ff1a1a" fill-opacity="0.48"/>
<rect x="1678.0" y="803" width="1.6" height="12.8" fill="#ff1a1a" fill-opacity="0.48"/>
<rect x="1681.6" y="803" width="1.9" height="7.6" fill="#ff1a1a" fill-opacity="0.48"/>
<rect x="1683.8" y="803" width="1.9" height="17.7" fill="#ff1a1a" fill-opacity="0.78"/>
<rect x="1685.8" y="803" width="1.9" height="14.1" fill="#ff1a1a" fill-opacity="0.48"/>
<rect x="1688.1" y="803" width="1.9" height="22.5" fill="#ff1a1a" fill-opacity="0.48"/>
<rect x="1689.4" y="803" width="2.9" height="27.4" fill="#ff1a1a" fill-opacity="0.48"/>
<rect x="1696.2" y="803" width="1.9" height="32.8" fill="#ff1a1a" fill-opacity="0.97"/>
<rect x="1697.8" y="803" width="1.9" height="32.0" fill="#ff1a1a" fill-opacity="0.97"/>
<rect x="1701.4" y="803" width="2.3" height="31.1" fill="#ff1a1a" fill-opacity="0.97"/>
<rect x="1703.0" y="803" width="1.9" height="36.5" fill="#ff1a1a" fill-opacity="0.78"/>
<rect x="1704.6" y="803" width="2.3" height="24.7" fill="#ff1a1a" fill-opacity="0.97"/>
<rect x="1706.6" y="803" width="1.6" height="20.6" fill="#ff1a1a" fill-opacity="0.97"/>
<rect x="1715.0" y="803" width="1.9" height="5.2" fill="#ff1a1a" fill-opacity="0.78"/>
<rect x="1717.3" y="803" width="2.3" height="18.2" fill="#ff1a1a" fill-opacity="0.78"/>
<rect x="1723.8" y="803" width="1.3" height="4.4" fill="#ff1a1a" fill-opacity="0.78"/>
<rect x="1731.2" y="803" width="1.9" height="8.7" fill="#ff1a1a" fill-opacity="0.48"/>
<rect x="1732.9" y="803" width="1.9" height="14.1" fill="#ff1a1a" fill-opacity="0.48"/>
<rect x="1735.5" y="803" width="1.9" height="19.3" fill="#ff1a1a" fill-opacity="0.48"/>
<rect x="1749.1" y="803" width="1.9" height="24.7" fill="#ff1a1a" fill-opacity="0.48"/>
<rect x="1751.0" y="803" width="1.9" height="29.5" fill="#ff1a1a" fill-opacity="0.48"/>
<rect x="1754.6" y="803" width="1.6" height="23.0" fill="#ff1a1a" fill-opacity="0.78"/>
<rect x="1770.8" y="803" width="1.6" height="4.7" fill="#ff1a1a" fill-opacity="0.48"/>
<rect x="1789.0" y="803" width="1.6" height="7.9" fill="#ff1a1a" fill-opacity="0.48"/>
<rect x="1793.6" y="803" width="1.6" height="11.2" fill="#ff1a1a" fill-opacity="0.78"/>
<rect x="1796.2" y="803" width="2.3" height="23.8" fill="#ff1a1a" fill-opacity="0.78"/>
<rect x="1804.9" y="803" width="1.9" height="30.0" fill="#ff1a1a" fill-opacity="0.48"/>
<rect x="1807.2" y="803" width="2.6" height="36.5" fill="#ff1a1a" fill-opacity="0.48"/>
<rect x="1813.7" y="803" width="1.9" height="36.5" fill="#ff1a1a" fill-opacity="0.78"/>
<rect x="1815.3" y="803" width="1.9" height="42.5" fill="#ff1a1a" fill-opacity="0.97"/>
<rect x="1816.9" y="803" width="2.3" height="53.1" fill="#ff1a1a" fill-opacity="0.97"/>
<rect x="1818.6" y="803" width="2.3" height="48.2" fill="#ff1a1a" fill-opacity="0.97"/>
<rect x="1820.5" y="803" width="1.9" height="53.9" fill="#ff1a1a" fill-opacity="0.48"/>
<rect x="1822.5" y="803" width="2.3" height="59.9" fill="#ff1a1a" fill-opacity="0.48"/>
<rect x="1823.8" y="803" width="1.6" height="41.4" fill="#ff1a1a" fill-opacity="0.48"/>
<rect x="1829.0" y="803" width="1.9" height="52.7" fill="#ff1a1a" fill-opacity="0.48"/>
<rect x="1830.9" y="803" width="1.9" height="58.7" fill="#ff1a1a" fill-opacity="0.48"/>
<rect x="1832.5" y="803" width="2.3" height="64.4" fill="#ff1a1a" fill-opacity="0.48"/>
<rect x="1834.5" y="803" width="1.9" height="69.3" fill="#ff1a1a" fill-opacity="0.48"/>
<rect x="1836.1" y="803" width="2.3" height="73.4" fill="#ff1a1a" fill-opacity="0.78"/>
<rect x="1841.0" y="803" width="1.9" height="73.4" fill="#ff1a1a" fill-opacity="0.78"/>
<rect x="1842.9" y="803" width="1.9" height="54.7" fill="#ff1a1a" fill-opacity="0.78"/>
<rect x="1844.9" y="803" width="1.3" height="60.4" fill="#ff1a1a" fill-opacity="0.78"/>
<rect x="1847.1" y="803" width="1.6" height="53.4" fill="#ff1a1a" fill-opacity="0.48"/>
<rect x="1849.1" y="803" width="1.9" height="59.2" fill="#ff1a1a" fill-opacity="0.48"/>
<rect x="1851.0" y="803" width="1.9" height="50.6" fill="#ff1a1a" fill-opacity="0.48"/>
<rect x="1854.0" y="803" width="1.6" height="46.6" fill="#ff1a1a" fill-opacity="0.78"/>
<rect x="1855.6" y="803" width="1.9" height="51.4" fill="#ff1a1a" fill-opacity="0.78"/>
<rect x="1857.9" y="803" width="1.9" height="57.9" fill="#ff1a1a" fill-opacity="0.48"/>
<rect x="1861.1" y="803" width="2.3" height="62.5" fill="#ff1a1a" fill-opacity="0.78"/>
<rect x="1863.4" y="803" width="1.9" height="80.3" fill="#ff1a1a" fill-opacity="0.78"/>
<rect x="1869.9" y="803" width="2.3" height="72.5" fill="#ff1a1a" fill-opacity="0.78"/>
<rect x="1876.4" y="803" width="1.6" height="62.8" fill="#ff1a1a" fill-opacity="0.78"/>
<rect x="1877.3" y="803" width="2.3" height="73.4" fill="#ff1a1a" fill-opacity="0.48"/>
<rect x="1879.6" y="803" width="2.3" height="40.1" fill="#ff1a1a" fill-opacity="0.78"/>
<rect x="1881.9" y="803" width="2.3" height="38.5" fill="#ff1a1a" fill-opacity="0.48"/>
<rect x="1883.5" y="803" width="1.9" height="37.6" fill="#ff1a1a" fill-opacity="0.78"/>
<rect x="1885.8" y="803" width="1.6" height="40.9" fill="#ff1a1a" fill-opacity="0.78"/>
<rect x="1890.0" y="803" width="1.3" height="34.9" fill="#ff1a1a" fill-opacity="0.78"/>
<rect x="1894.9" y="803" width="1.6" height="45.3" fill="#ff1a1a" fill-opacity="0.78"/>
<rect x="1898.1" y="803" width="1.6" height="64.4" fill="#ff1a1a" fill-opacity="0.78"/>
<rect x="1897.8" y="803" width="1.3" height="54.7" fill="#ff1a1a" fill-opacity="0.97"/>
<rect x="1901.0" y="803" width="2.3" height="39.3" fill="#ff1a1a" fill-opacity="0.48"/>
<rect x="1907.2" y="803" width="1.3" height="14.4" fill="#ff1a1a" fill-opacity="0.78"/>
<rect x="1912.4" y="803" width="1.3" height="10.0" fill="#ff1a1a" fill-opacity="0.78"/>
<rect x="1915.0" y="803" width="1.9" height="20.6" fill="#ff1a1a" fill-opacity="0.78"/>
<rect x="1916.9" y="803" width="1.6" height="18.5" fill="#ff1a1a" fill-opacity="0.78"/>
<rect x="1921.8" y="803" width="2.6" height="15.7" fill="#ff1a1a" fill-opacity="0.48"/>
<rect x="1935.1" y="803" width="1.9" height="8.7" fill="#ff1a1a" fill-opacity="0.48"/>
<rect x="1942.3" y="803" width="1.6" height="16.5" fill="#ff1a1a" fill-opacity="0.48"/>
<rect x="1948.1" y="803" width="1.6" height="17.0" fill="#ff1a1a" fill-opacity="0.48"/>
<rect x="1952.7" y="803" width="1.9" height="23.0" fill="#ff1a1a" fill-opacity="0.78"/>
<rect x="1954.3" y="803" width="1.9" height="35.2" fill="#ff1a1a" fill-opacity="0.97"/>
<rect x="1956.2" y="803" width="2.3" height="43.6" fill="#ff1a1a" fill-opacity="0.78"/>
<rect x="1962.1" y="803" width="2.3" height="40.9" fill="#ff1a1a" fill-opacity="0.48"/>
<rect x="1964.4" y="803" width="1.6" height="40.1" fill="#ff1a1a" fill-opacity="0.78"/>
<rect x="1968.6" y="803" width="1.0" height="1.4" fill="#ff1a1a" fill-opacity="0.78"/>
<rect x="1972.1" y="803" width="1.3" height="10.0" fill="#ff1a1a" fill-opacity="0.48"/>
<rect x="1973.4" y="803" width="1.3" height="23.0" fill="#ff1a1a" fill-opacity="0.78"/>
<rect x="1976.7" y="803" width="1.9" height="15.7" fill="#ff1a1a" fill-opacity="0.48"/>
<rect x="1982.5" y="803" width="1.6" height="4.0" fill="#ff1a1a" fill-opacity="0.48"/>
<rect x="1988.4" y="803" width="1.9" height="28.4" fill="#ff1a1a" fill-opacity="0.78"/>
<rect x="1992.3" y="803" width="2.3" height="40.4" fill="#ff1a1a" fill-opacity="0.48"/>
<rect x="1996.2" y="803" width="1.9" height="32.0" fill="#ff1a1a" fill-opacity="0.78"/>
<rect x="1998.1" y="803" width="1.6" height="37.6" fill="#ff1a1a" fill-opacity="0.78"/>
<rect x="1999.7" y="803" width="1.3" height="51.4" fill="#ff1a1a" fill-opacity="0.78"/>
<rect x="2001.0" y="803" width="1.9" height="42.0" fill="#ff1a1a" fill-opacity="0.97"/>
<rect x="2004.6" y="803" width="1.3" height="52.7" fill="#ff1a1a" fill-opacity="0.78"/>
<rect x="2005.6" y="803" width="1.6" height="25.5" fill="#ff1a1a" fill-opacity="0.97"/>
<rect x="2016.0" y="803" width="1.6" height="14.1" fill="#ff1a1a" fill-opacity="0.48"/>
<rect x="2021.8" y="803" width="1.9" height="10.0" fill="#ff1a1a" fill-opacity="0.78"/>
<rect x="2023.8" y="803" width="1.9" height="24.2" fill="#ff1a1a" fill-opacity="0.78"/>
<rect x="2025.1" y="803" width="1.6" height="29.5" fill="#ff1a1a" fill-opacity="0.78"/>
<rect x="2027.3" y="803" width="1.9" height="19.0" fill="#ff1a1a" fill-opacity="0.78"/>
<rect x="2029.6" y="803" width="2.2" height="19.6" fill="#ff1a1a" fill-opacity="0.30"/>
<rect x="2030.2" y="803" width="1.0" height="19.6" fill="#ff1a1a" fill-opacity="0.85"/>
<rect x="2031.6" y="803" width="2.2" height="27.0" fill="#ff1a1a" fill-opacity="0.30"/>
<rect x="2032.2" y="803" width="1.0" height="27.0" fill="#ff1a1a" fill-opacity="0.85"/>
<rect x="2037.0" y="803" width="2.2" height="32.9" fill="#ff1a1a" fill-opacity="0.30"/>
<rect x="2037.6" y="803" width="1.0" height="32.9" fill="#ff1a1a" fill-opacity="0.85"/>
<rect x="2040.0" y="803" width="2.2" height="34.4" fill="#ff1a1a" fill-opacity="0.30"/>
<rect x="2040.6" y="803" width="1.0" height="34.4" fill="#ff1a1a" fill-opacity="0.85"/>
<rect x="2043.7" y="803" width="2.2" height="10.7" fill="#ff1a1a" fill-opacity="0.22"/>
<rect x="2044.3" y="803" width="1.0" height="10.7" fill="#ff1a1a" fill-opacity="0.50"/>
<rect x="2045.5" y="803" width="2.2" height="7.8" fill="#ff1a1a" fill-opacity="0.22"/>
<rect x="2046.1" y="803" width="1.0" height="7.8" fill="#ff1a1a" fill-opacity="0.50"/>
<rect x="2049.6" y="803" width="2.2" height="13.7" fill="#ff1a1a" fill-opacity="0.22"/>
<rect x="2050.2" y="803" width="1.0" height="13.7" fill="#ff1a1a" fill-opacity="0.50"/>
<rect x="2051.8" y="803" width="2.2" height="27.0" fill="#ff1a1a" fill-opacity="0.30"/>
<rect x="2052.4" y="803" width="1.0" height="27.0" fill="#ff1a1a" fill-opacity="0.85"/>
<rect x="2053.3" y="803" width="2.2" height="35.9" fill="#ff1a1a" fill-opacity="0.30"/>
<rect x="2053.9" y="803" width="1.0" height="35.9" fill="#ff1a1a" fill-opacity="0.85"/>
<rect x="2054.8" y="803" width="2.2" height="41.8" fill="#ff1a1a" fill-opacity="0.30"/>
<rect x="2055.4" y="803" width="1.0" height="41.8" fill="#ff1a1a" fill-opacity="0.85"/>
<rect x="2056.3" y="803" width="2.2" height="50.7" fill="#ff1a1a" fill-opacity="0.30"/>
<rect x="2056.9" y="803" width="1.0" height="50.7" fill="#ff1a1a" fill-opacity="0.85"/>
<rect x="2058.5" y="803" width="2.2" height="62.5" fill="#ff1a1a" fill-opacity="0.30"/>
<rect x="2059.1" y="803" width="1.0" height="62.5" fill="#ff1a1a" fill-opacity="0.85"/>
<rect x="2060.2" y="803" width="2.2" height="87.6" fill="#ff1a1a" fill-opacity="0.45"/>
<rect x="2060.8" y="803" width="1.0" height="87.6" fill="#ff1a1a" fill-opacity="1.00"/>
<rect x="2061.7" y="803" width="2.2" height="75.8" fill="#ff1a1a" fill-opacity="0.45"/>
<rect x="2062.3" y="803" width="1.0" height="75.8" fill="#ff1a1a" fill-opacity="1.00"/>
<rect x="2063.6" y="803" width="2.2" height="99.4" fill="#ff1a1a" fill-opacity="0.45"/>
<rect x="2064.2" y="803" width="1.0" height="99.4" fill="#ff1a1a" fill-opacity="1.00"/>
<rect x="2065.1" y="803" width="2.2" height="108.3" fill="#ff1a1a" fill-opacity="0.45"/>
<rect x="2065.7" y="803" width="1.0" height="108.3" fill="#ff1a1a" fill-opacity="1.00"/>
<rect x="2066.2" y="803" width="2.2" height="111.3" fill="#ff1a1a" fill-opacity="0.45"/>
<rect x="2066.8" y="803" width="1.0" height="111.3" fill="#ff1a1a" fill-opacity="1.00"/>
<rect x="2067.3" y="803" width="2.2" height="96.5" fill="#ff1a1a" fill-opacity="0.45"/>
<rect x="2067.9" y="803" width="1.0" height="96.5" fill="#ff1a1a" fill-opacity="1.00"/>
<rect x="2068.8" y="803" width="2.2" height="84.7" fill="#ff1a1a" fill-opacity="0.30"/>
<rect x="2069.4" y="803" width="1.0" height="84.7" fill="#ff1a1a" fill-opacity="0.85"/>
<rect x="2070.3" y="803" width="2.2" height="37.4" fill="#ff1a1a" fill-opacity="0.22"/>
<rect x="2070.9" y="803" width="1.0" height="37.4" fill="#ff1a1a" fill-opacity="0.50"/>
<rect x="2076.2" y="803" width="2.2" height="89.8" fill="#ff1a1a" fill-opacity="0.30"/>
<rect x="2076.8" y="803" width="1.0" height="89.8" fill="#ff1a1a" fill-opacity="0.85"/>
<rect x="2078.4" y="803" width="2.2" height="89.1" fill="#ff1a1a" fill-opacity="0.30"/>
<rect x="2079.0" y="803" width="1.0" height="89.1" fill="#ff1a1a" fill-opacity="0.85"/>
<rect x="2080.3" y="803" width="2.2" height="87.6" fill="#ff1a1a" fill-opacity="0.30"/>
<rect x="2080.9" y="803" width="1.0" height="87.6" fill="#ff1a1a" fill-opacity="0.85"/>
<rect x="2081.8" y="803" width="2.2" height="37.4" fill="#ff1a1a" fill-opacity="0.22"/>
<rect x="2082.4" y="803" width="1.0" height="37.4" fill="#ff1a1a" fill-opacity="0.50"/>
<rect x="2089.2" y="803" width="2.2" height="95.0" fill="#ff1a1a" fill-opacity="0.45"/>
<rect x="2089.8" y="803" width="1.0" height="95.0" fill="#ff1a1a" fill-opacity="1.00"/>
<rect x="2091.0" y="803" width="2.2" height="81.7" fill="#ff1a1a" fill-opacity="0.30"/>
<rect x="2091.6" y="803" width="1.0" height="81.7" fill="#ff1a1a" fill-opacity="0.85"/>
<rect x="2092.8" y="803" width="2.2" height="83.2" fill="#ff1a1a" fill-opacity="0.45"/>
<rect x="2093.4" y="803" width="1.0" height="83.2" fill="#ff1a1a" fill-opacity="1.00"/>
<rect x="2094.2" y="803" width="2.2" height="95.0" fill="#ff1a1a" fill-opacity="0.30"/>
<rect x="2094.8" y="803" width="1.0" height="95.0" fill="#ff1a1a" fill-opacity="0.85"/>
<rect x="2096.2" y="803" width="2.2" height="80.2" fill="#ff1a1a" fill-opacity="0.45"/>
<rect x="2096.8" y="803" width="1.0" height="80.2" fill="#ff1a1a" fill-opacity="1.00"/>
<rect x="2097.9" y="803" width="2.2" height="84.7" fill="#ff1a1a" fill-opacity="0.45"/>
<rect x="2098.5" y="803" width="1.0" height="84.7" fill="#ff1a1a" fill-opacity="1.00"/>
<rect x="2099.9" y="803" width="2.2" height="83.9" fill="#ff1a1a" fill-opacity="0.45"/>
<rect x="2100.5" y="803" width="1.0" height="83.9" fill="#ff1a1a" fill-opacity="1.00"/>
<rect x="2101.6" y="803" width="2.2" height="81.7" fill="#ff1a1a" fill-opacity="0.45"/>
<rect x="2102.2" y="803" width="1.0" height="81.7" fill="#ff1a1a" fill-opacity="1.00"/>
<rect x="2103.6" y="803" width="2.2" height="84.7" fill="#ff1a1a" fill-opacity="0.45"/>
<rect x="2104.2" y="803" width="1.0" height="84.7" fill="#ff1a1a" fill-opacity="1.00"/>
<rect x="2105.0" y="803" width="2.2" height="86.1" fill="#ff1a1a" fill-opacity="0.45"/>
<rect x="2105.6" y="803" width="1.0" height="86.1" fill="#ff1a1a" fill-opacity="1.00"/>
<rect x="2107.0" y="803" width="2.2" height="80.2" fill="#ff1a1a" fill-opacity="0.45"/>
<rect x="2107.6" y="803" width="1.0" height="80.2" fill="#ff1a1a" fill-opacity="1.00"/>
<rect x="2108.1" y="803" width="2.2" height="92.1" fill="#ff1a1a" fill-opacity="0.30"/>
<rect x="2108.7" y="803" width="1.0" height="92.1" fill="#ff1a1a" fill-opacity="0.85"/>
<rect x="2109.9" y="803" width="2.2" height="77.3" fill="#ff1a1a" fill-opacity="0.45"/>
<rect x="2110.5" y="803" width="1.0" height="77.3" fill="#ff1a1a" fill-opacity="1.00"/>
<rect x="2111.7" y="803" width="2.2" height="87.6" fill="#ff1a1a" fill-opacity="0.30"/>
<rect x="2112.3" y="803" width="1.0" height="87.6" fill="#ff1a1a" fill-opacity="0.85"/>
<rect x="2113.5" y="803" width="2.2" height="69.9" fill="#ff1a1a" fill-opacity="0.45"/>
<rect x="2114.1" y="803" width="1.0" height="69.9" fill="#ff1a1a" fill-opacity="1.00"/>
<rect x="2115.4" y="803" width="2.2" height="68.4" fill="#ff1a1a" fill-opacity="0.45"/>
<rect x="2116.0" y="803" width="1.0" height="68.4" fill="#ff1a1a" fill-opacity="1.00"/>
<rect x="2117.3" y="803" width="2.2" height="75.8" fill="#ff1a1a" fill-opacity="0.30"/>
<rect x="2117.9" y="803" width="1.0" height="75.8" fill="#ff1a1a" fill-opacity="0.85"/>
<rect x="2119.1" y="803" width="2.2" height="59.5" fill="#ff1a1a" fill-opacity="0.45"/>
<rect x="2119.7" y="803" width="1.0" height="59.5" fill="#ff1a1a" fill-opacity="1.00"/>
<rect x="2120.9" y="803" width="2.2" height="62.5" fill="#ff1a1a" fill-opacity="0.45"/>
<rect x="2121.5" y="803" width="1.0" height="62.5" fill="#ff1a1a" fill-opacity="1.00"/>
<rect x="2122.8" y="803" width="2.2" height="59.5" fill="#ff1a1a" fill-opacity="0.45"/>
<rect x="2123.4" y="803" width="1.0" height="59.5" fill="#ff1a1a" fill-opacity="1.00"/>
<rect x="2124.7" y="803" width="2.2" height="62.5" fill="#ff1a1a" fill-opacity="0.30"/>
<rect x="2125.3" y="803" width="1.0" height="62.5" fill="#ff1a1a" fill-opacity="0.85"/>
<rect x="2126.5" y="803" width="2.2" height="56.6" fill="#ff1a1a" fill-opacity="0.30"/>
<rect x="2127.1" y="803" width="1.0" height="56.6" fill="#ff1a1a" fill-opacity="0.85"/>
<rect x="2128.2" y="803" width="2.2" height="50.7" fill="#ff1a1a" fill-opacity="0.30"/>
<rect x="2128.8" y="803" width="1.0" height="50.7" fill="#ff1a1a" fill-opacity="0.85"/>
<rect x="2130.2" y="803" width="2.2" height="46.2" fill="#ff1a1a" fill-opacity="0.30"/>
<rect x="2130.8" y="803" width="1.0" height="46.2" fill="#ff1a1a" fill-opacity="0.85"/>
<rect x="2136.8" y="803" width="2.2" height="53.6" fill="#ff1a1a" fill-opacity="0.30"/>
<rect x="2137.4" y="803" width="1.0" height="53.6" fill="#ff1a1a" fill-opacity="0.85"/>
<rect x="2138.6" y="803" width="2.2" height="52.1" fill="#ff1a1a" fill-opacity="0.30"/>
<rect x="2139.2" y="803" width="1.0" height="52.1" fill="#ff1a1a" fill-opacity="0.85"/>
<rect x="2140.5" y="803" width="2.2" height="62.5" fill="#ff1a1a" fill-opacity="0.30"/>
<rect x="2141.1" y="803" width="1.0" height="62.5" fill="#ff1a1a" fill-opacity="0.85"/>
<rect x="2142.4" y="803" width="2.2" height="41.8" fill="#ff1a1a" fill-opacity="0.30"/>
<rect x="2143.0" y="803" width="1.0" height="41.8" fill="#ff1a1a" fill-opacity="0.85"/>
<rect x="2144.2" y="803" width="2.2" height="37.4" fill="#ff1a1a" fill-opacity="0.30"/>
<rect x="2144.8" y="803" width="1.0" height="37.4" fill="#ff1a1a" fill-opacity="0.85"/>
<rect x="2146.1" y="803" width="2.2" height="35.9" fill="#ff1a1a" fill-opacity="0.22"/>
<rect x="2146.7" y="803" width="1.0" height="35.9" fill="#ff1a1a" fill-opacity="0.50"/>
<rect x="2154.6" y="803" width="2.2" height="18.1" fill="#ff1a1a" fill-opacity="0.30"/>
<rect x="2155.2" y="803" width="1.0" height="18.1" fill="#ff1a1a" fill-opacity="0.85"/>
<rect x="2156.8" y="803" width="2.2" height="22.6" fill="#ff1a1a" fill-opacity="0.30"/>
<rect x="2157.4" y="803" width="1.0" height="22.6" fill="#ff1a1a" fill-opacity="0.85"/>
<rect x="2160.5" y="803" width="2.2" height="16.7" fill="#ff1a1a" fill-opacity="0.22"/>
<rect x="2161.1" y="803" width="1.0" height="16.7" fill="#ff1a1a" fill-opacity="0.50"/>
<rect x="2163.7" y="803" width="2.2" height="15.2" fill="#ff1a1a" fill-opacity="0.22"/>
<rect x="2164.3" y="803" width="1.0" height="15.2" fill="#ff1a1a" fill-opacity="0.50"/>
<rect x="2169.3" y="803" width="2.2" height="16.7" fill="#ff1a1a" fill-opacity="0.30"/>
<rect x="2169.9" y="803" width="1.0" height="16.7" fill="#ff1a1a" fill-opacity="0.85"/>
<rect x="2173.0" y="803" width="2.2" height="20.4" fill="#ff1a1a" fill-opacity="0.30"/>
<rect x="2173.6" y="803" width="1.0" height="20.4" fill="#ff1a1a" fill-opacity="0.85"/>
<rect x="2178.5" y="803" width="2.2" height="6.3" fill="#ff1a1a" fill-opacity="0.22"/>
<rect x="2179.1" y="803" width="1.0" height="6.3" fill="#ff1a1a" fill-opacity="0.50"/>
<rect x="2192.3" y="803" width="2.2" height="10.7" fill="#ff1a1a" fill-opacity="0.22"/>
<rect x="2192.9" y="803" width="1.0" height="10.7" fill="#ff1a1a" fill-opacity="0.50"/>
<rect x="2194.2" y="803" width="2.2" height="15.2" fill="#ff1a1a" fill-opacity="0.30"/>
<rect x="2194.8" y="803" width="1.0" height="15.2" fill="#ff1a1a" fill-opacity="0.85"/>
<rect x="2196.0" y="803" width="2.2" height="32.9" fill="#ff1a1a" fill-opacity="0.30"/>
<rect x="2196.6" y="803" width="1.0" height="32.9" fill="#ff1a1a" fill-opacity="0.85"/>
<rect x="2216.7" y="803" width="2.2" height="10.7" fill="#ff1a1a" fill-opacity="0.30"/>
<rect x="2217.3" y="803" width="1.0" height="10.7" fill="#ff1a1a" fill-opacity="0.85"/>
<rect x="2238.1" y="803" width="2.2" height="11.5" fill="#ff1a1a" fill-opacity="0.30"/>
<rect x="2238.7" y="803" width="1.0" height="11.5" fill="#ff1a1a" fill-opacity="0.85"/>
<rect x="2239.6" y="803" width="2.2" height="10.7" fill="#ff1a1a" fill-opacity="0.30"/>
<rect x="2240.2" y="803" width="1.0" height="10.7" fill="#ff1a1a" fill-opacity="0.85"/>
<rect x="2249.2" y="803" width="2.2" height="15.2" fill="#ff1a1a" fill-opacity="0.30"/>
<rect x="2249.8" y="803" width="1.0" height="15.2" fill="#ff1a1a" fill-opacity="0.85"/>
<rect x="2256.6" y="803" width="2.2" height="13.7" fill="#ff1a1a" fill-opacity="0.22"/>
<rect x="2257.2" y="803" width="1.0" height="13.7" fill="#ff1a1a" fill-opacity="0.50"/>
<rect x="2260.8" y="803" width="2.2" height="21.1" fill="#ff1a1a" fill-opacity="0.30"/>
<rect x="2261.4" y="803" width="1.0" height="21.1" fill="#ff1a1a" fill-opacity="0.85"/>
<rect x="2277.6" y="803" width="2.2" height="27.0" fill="#ff1a1a" fill-opacity="0.30"/>
<rect x="2278.2" y="803" width="1.0" height="27.0" fill="#ff1a1a" fill-opacity="0.85"/>
<rect x="2281.8" y="803" width="2.2" height="30.0" fill="#ff1a1a" fill-opacity="0.30"/>
<rect x="2282.4" y="803" width="1.0" height="30.0" fill="#ff1a1a" fill-opacity="0.85"/>
<rect x="2283.3" y="803" width="2.2" height="40.3" fill="#ff1a1a" fill-opacity="0.30"/>
<rect x="2283.9" y="803" width="1.0" height="40.3" fill="#ff1a1a" fill-opacity="0.85"/>
<rect x="2285.0" y="803" width="2.2" height="49.2" fill="#ff1a1a" fill-opacity="0.30"/>
<rect x="2285.6" y="803" width="1.0" height="49.2" fill="#ff1a1a" fill-opacity="0.85"/>
<rect x="2286.5" y="803" width="2.2" height="41.8" fill="#ff1a1a" fill-opacity="0.22"/>
<rect x="2287.1" y="803" width="1.0" height="41.8" fill="#ff1a1a" fill-opacity="0.50"/>
<rect x="2288.4" y="803" width="2.2" height="37.4" fill="#ff1a1a" fill-opacity="0.22"/>
<rect x="2289.0" y="803" width="1.0" height="37.4" fill="#ff1a1a" fill-opacity="0.50"/>
<rect x="2290.6" y="803" width="2.2" height="37.4" fill="#ff1a1a" fill-opacity="0.30"/>
<rect x="2291.2" y="803" width="1.0" height="37.4" fill="#ff1a1a" fill-opacity="0.85"/>
<rect x="2295.8" y="803" width="2.2" height="59.5" fill="#ff1a1a" fill-opacity="0.22"/>
<rect x="2296.4" y="803" width="1.0" height="59.5" fill="#ff1a1a" fill-opacity="0.50"/>
<rect x="2297.3" y="803" width="2.2" height="58.1" fill="#ff1a1a" fill-opacity="0.22"/>
<rect x="2297.9" y="803" width="1.0" height="58.1" fill="#ff1a1a" fill-opacity="0.50"/>
<rect x="2299.5" y="803" width="2.2" height="68.4" fill="#ff1a1a" fill-opacity="0.30"/>
<rect x="2300.1" y="803" width="1.0" height="68.4" fill="#ff1a1a" fill-opacity="0.85"/>
<rect x="2301.3" y="803" width="2.2" height="81.7" fill="#ff1a1a" fill-opacity="0.22"/>
<rect x="2301.9" y="803" width="1.0" height="81.7" fill="#ff1a1a" fill-opacity="0.50"/>
<rect x="2302.8" y="803" width="2.2" height="91.3" fill="#ff1a1a" fill-opacity="0.30"/>
<rect x="2303.4" y="803" width="1.0" height="91.3" fill="#ff1a1a" fill-opacity="0.85"/>
<rect x="2304.0" y="803" width="2.2" height="84.7" fill="#ff1a1a" fill-opacity="0.45"/>
<rect x="2304.6" y="803" width="1.0" height="84.7" fill="#ff1a1a" fill-opacity="1.00"/>
<rect x="2307.2" y="803" width="2.2" height="96.5" fill="#ff1a1a" fill-opacity="0.22"/>
<rect x="2307.8" y="803" width="1.0" height="96.5" fill="#ff1a1a" fill-opacity="0.50"/>
<rect x="2309.1" y="803" width="2.2" height="96.5" fill="#ff1a1a" fill-opacity="0.22"/>
<rect x="2309.7" y="803" width="1.0" height="96.5" fill="#ff1a1a" fill-opacity="0.50"/>
<rect x="2310.6" y="803" width="2.2" height="103.9" fill="#ff1a1a" fill-opacity="0.30"/>
<rect x="2311.2" y="803" width="1.0" height="103.9" fill="#ff1a1a" fill-opacity="0.85"/>
<rect x="2312.1" y="803" width="2.2" height="87.6" fill="#ff1a1a" fill-opacity="0.45"/>
<rect x="2312.7" y="803" width="1.0" height="87.6" fill="#ff1a1a" fill-opacity="1.00"/>
<rect x="2313.6" y="803" width="2.2" height="81.7" fill="#ff1a1a" fill-opacity="0.45"/>
<rect x="2314.2" y="803" width="1.0" height="81.7" fill="#ff1a1a" fill-opacity="1.00"/>
<rect x="2315.8" y="803" width="2.2" height="95.0" fill="#ff1a1a" fill-opacity="0.22"/>
<rect x="2316.4" y="803" width="1.0" height="95.0" fill="#ff1a1a" fill-opacity="0.50"/>
<rect x="2317.3" y="803" width="2.2" height="93.5" fill="#ff1a1a" fill-opacity="0.22"/>
<rect x="2317.9" y="803" width="1.0" height="93.5" fill="#ff1a1a" fill-opacity="0.50"/>
<rect x="2319.5" y="803" width="2.2" height="127.5" fill="#ff1a1a" fill-opacity="0.45"/>
<rect x="2320.1" y="803" width="1.0" height="127.5" fill="#ff1a1a" fill-opacity="1.00"/>
<rect x="2321.4" y="803" width="2.2" height="66.9" fill="#ff1a1a" fill-opacity="0.30"/>
<rect x="2322.0" y="803" width="1.0" height="66.9" fill="#ff1a1a" fill-opacity="0.85"/>
<rect x="2325.8" y="803" width="2.2" height="127.5" fill="#ff1a1a" fill-opacity="0.45"/>
<rect x="2326.4" y="803" width="1.0" height="127.5" fill="#ff1a1a" fill-opacity="1.00"/>
<rect x="2327.6" y="803" width="2.2" height="52.1" fill="#ff1a1a" fill-opacity="0.30"/>
<rect x="2328.2" y="803" width="1.0" height="52.1" fill="#ff1a1a" fill-opacity="0.85"/>
<rect x="2330.6" y="803" width="2.2" height="55.1" fill="#ff1a1a" fill-opacity="0.30"/>
<rect x="2331.2" y="803" width="1.0" height="55.1" fill="#ff1a1a" fill-opacity="0.85"/>
<rect x="2335.7" y="803" width="2.2" height="66.9" fill="#ff1a1a" fill-opacity="0.30"/>
<rect x="2336.3" y="803" width="1.0" height="66.9" fill="#ff1a1a" fill-opacity="0.85"/>
<rect x="2337.2" y="803" width="2.2" height="19.6" fill="#ff1a1a" fill-opacity="0.22"/>
<rect x="2337.8" y="803" width="1.0" height="19.6" fill="#ff1a1a" fill-opacity="0.50"/>
<rect x="2340.9" y="803" width="2.2" height="22.6" fill="#ff1a1a" fill-opacity="0.22"/>
<rect x="2341.5" y="803" width="1.0" height="22.6" fill="#ff1a1a" fill-opacity="0.50"/>
<rect x="2355.7" y="803" width="2.2" height="7.8" fill="#ff1a1a" fill-opacity="0.30"/>
<rect x="2356.3" y="803" width="1.0" height="7.8" fill="#ff1a1a" fill-opacity="0.85"/>
<rect x="2364.6" y="803" width="2.2" height="13.7" fill="#ff1a1a" fill-opacity="0.30"/>
<rect x="2365.2" y="803" width="1.0" height="13.7" fill="#ff1a1a" fill-opacity="0.85"/>
<rect x="2369.0" y="803" width="2.2" height="22.6" fill="#ff1a1a" fill-opacity="0.22"/>
<rect x="2369.6" y="803" width="1.0" height="22.6" fill="#ff1a1a" fill-opacity="0.50"/>
<rect x="2372.7" y="803" width="2.2" height="27.0" fill="#ff1a1a" fill-opacity="0.30"/>
<rect x="2373.3" y="803" width="1.0" height="27.0" fill="#ff1a1a" fill-opacity="0.85"/>
<rect x="2380.8" y="803" width="2.2" height="15.2" fill="#ff1a1a" fill-opacity="0.22"/>
<rect x="2381.4" y="803" width="1.0" height="15.2" fill="#ff1a1a" fill-opacity="0.50"/>
<rect x="2384.5" y="803" width="2.2" height="24.0" fill="#ff1a1a" fill-opacity="0.30"/>
<rect x="2385.1" y="803" width="1.0" height="24.0" fill="#ff1a1a" fill-opacity="0.85"/>
<rect x="2389.7" y="803" width="2.2" height="22.6" fill="#ff1a1a" fill-opacity="0.22"/>
<rect x="2390.3" y="803" width="1.0" height="22.6" fill="#ff1a1a" fill-opacity="0.50"/>
<rect x="2392.4" y="803" width="2.2" height="31.4" fill="#ff1a1a" fill-opacity="0.22"/>
<rect x="2393.0" y="803" width="1.0" height="31.4" fill="#ff1a1a" fill-opacity="0.50"/>
<rect x="2394.1" y="803" width="2.2" height="50.7" fill="#ff1a1a" fill-opacity="0.30"/>
<rect x="2394.7" y="803" width="1.0" height="50.7" fill="#ff1a1a" fill-opacity="0.85"/>
<rect x="2395.9" y="803" width="2.2" height="53.6" fill="#ff1a1a" fill-opacity="0.30"/>
<rect x="2396.5" y="803" width="1.0" height="53.6" fill="#ff1a1a" fill-opacity="0.85"/>
<rect x="2397.8" y="803" width="2.2" height="52.1" fill="#ff1a1a" fill-opacity="0.30"/>
<rect x="2398.4" y="803" width="1.0" height="52.1" fill="#ff1a1a" fill-opacity="0.85"/>
<rect x="2399.8" y="803" width="2.2" height="50.7" fill="#ff1a1a" fill-opacity="0.30"/>
<rect x="2400.4" y="803" width="1.0" height="50.7" fill="#ff1a1a" fill-opacity="0.85"/>
<rect x="2401.5" y="803" width="2.2" height="41.8" fill="#ff1a1a" fill-opacity="0.30"/>
<rect x="2402.1" y="803" width="1.0" height="41.8" fill="#ff1a1a" fill-opacity="0.85"/>
<rect x="2406.0" y="803" width="2.2" height="52.1" fill="#ff1a1a" fill-opacity="0.45"/>
<rect x="2406.6" y="803" width="1.0" height="52.1" fill="#ff1a1a" fill-opacity="1.00"/>
<rect x="2407.4" y="803" width="2.2" height="52.1" fill="#ff1a1a" fill-opacity="0.30"/>
<rect x="2408.0" y="803" width="1.0" height="52.1" fill="#ff1a1a" fill-opacity="0.85"/>
<rect x="2409.7" y="803" width="2.2" height="19.6" fill="#ff1a1a" fill-opacity="0.22"/>
<rect x="2410.3" y="803" width="1.0" height="19.6" fill="#ff1a1a" fill-opacity="0.50"/>
<rect x="2411.9" y="803" width="2.2" height="25.5" fill="#ff1a1a" fill-opacity="0.22"/>
<rect x="2412.5" y="803" width="1.0" height="25.5" fill="#ff1a1a" fill-opacity="0.50"/>
<rect x="2414.4" y="803" width="2.2" height="31.4" fill="#ff1a1a" fill-opacity="0.30"/>
<rect x="2415.0" y="803" width="1.0" height="31.4" fill="#ff1a1a" fill-opacity="0.85"/>
<rect x="2416.3" y="803" width="2.2" height="22.6" fill="#ff1a1a" fill-opacity="0.22"/>
<rect x="2416.9" y="803" width="1.0" height="22.6" fill="#ff1a1a" fill-opacity="0.50"/>
<rect x="2420.4" y="803" width="2.2" height="23.3" fill="#ff1a1a" fill-opacity="0.22"/>
<rect x="2421.0" y="803" width="1.0" height="23.3" fill="#ff1a1a" fill-opacity="0.50"/>
<rect x="2422.2" y="803" width="2.2" height="24.0" fill="#ff1a1a" fill-opacity="0.22"/>
<rect x="2422.8" y="803" width="1.0" height="24.0" fill="#ff1a1a" fill-opacity="0.50"/>
<rect x="2424.4" y="803" width="2.2" height="23.3" fill="#ff1a1a" fill-opacity="0.22"/>
<rect x="2425.0" y="803" width="1.0" height="23.3" fill="#ff1a1a" fill-opacity="0.50"/>
<rect x="2426.7" y="803" width="2.2" height="23.3" fill="#ff1a1a" fill-opacity="0.22"/>
<rect x="2427.3" y="803" width="1.0" height="23.3" fill="#ff1a1a" fill-opacity="0.50"/>
<rect x="2428.4" y="803" width="2.2" height="24.0" fill="#ff1a1a" fill-opacity="0.30"/>
<rect x="2429.0" y="803" width="1.0" height="24.0" fill="#ff1a1a" fill-opacity="0.85"/>
<rect x="2437.0" y="803" width="2.2" height="13.7" fill="#ff1a1a" fill-opacity="0.30"/>
<rect x="2437.6" y="803" width="1.0" height="13.7" fill="#ff1a1a" fill-opacity="0.85"/>
<rect x="2438.5" y="803" width="2.2" height="4.8" fill="#ff1a1a" fill-opacity="0.22"/>
<rect x="2439.1" y="803" width="1.0" height="4.8" fill="#ff1a1a" fill-opacity="0.50"/>
<rect x="2445.9" y="803" width="2.2" height="7.0" fill="#ff1a1a" fill-opacity="0.22"/>
<rect x="2446.5" y="803" width="1.0" height="7.0" fill="#ff1a1a" fill-opacity="0.50"/>
<rect x="2451.1" y="803" width="2.2" height="7.8" fill="#ff1a1a" fill-opacity="0.30"/>
<rect x="2451.7" y="803" width="1.0" height="7.8" fill="#ff1a1a" fill-opacity="0.85"/>
<path d="M83.0 114.5 H2453.0 V795.5 H83.0 Z" fill="none" stroke="#b2b2b2" stroke-width="1.4"/>
<path d="M83.0 802.5 H2453.0 M83.0 802.5 V938.0 H2453.0 V802.5" fill="none" stroke="#b2b2b2" stroke-width="1.4"/>
<path d="M83.0 761.7 h-3M83.0 723.3 h-3M83.0 684.8 h-3M83.0 646.4 h-3M83.0 608.0 h-3M83.0 569.5 h-3M83.0 531.1 h-3M83.0 492.7 h-3M83.0 454.2 h-3M83.0 415.8 h-3M83.0 377.4 h-3M83.0 339.0 h-3M83.0 300.5 h-3M83.0 262.1 h-3M83.0 223.7 h-3M83.0 185.2 h-3M83.0 146.8 h-3M83.0 802.7 h-3M83.0 830.0 h-3M83.0 857.2 h-3M83.0 884.5 h-3M83.0 911.7 h-3M153.1 938.0 v3M227.0 938.0 v3M299.7 938.0 v3M373.5 938.0 v3M446.6 938.0 v3M520.5 938.0 v3M593.2 938.0 v3M667.0 938.0 v3M739.7 938.0 v3M813.6 938.0 v3M886.3 938.0 v3M960.2 938.0 v3M1033.2 938.0 v3M1107.1 938.0 v3M1179.8 938.0 v3M1253.7 938.0 v3M1326.3 938.0 v3M1400.2 938.0 v3M1472.9 938.0 v3M1546.8 938.0 v3M1619.8 938.0 v3M1693.7 938.0 v3M1766.4 938.0 v3M1840.3 938.0 v3M1913.0 938.0 v3M1986.8 938.0 v3M2059.5 938.0 v3M2133.4 938.0 v3M2206.5 938.0 v3M2280.3 938.0 v3M2353.0 938.0 v3M2426.9 938.0 v3" stroke="#b4b4b4" stroke-width="1.2" fill="none"/>
<clipPath id="pc"><rect x="83.8" y="115" width="2368.5" height="680"/></clipPath><g fill="#08e608" clip-path="url(#pc)">
<circle cx="83.6" cy="761.8" r="3.75"/>
<circle cx="87.3" cy="755.3" r="3.75"/>
<circle cx="99.2" cy="754.1" r="3.75"/>
<circle cx="105.6" cy="754.4" r="3.75"/>
<circle cx="107.9" cy="751.7" r="3.75"/>
<circle cx="183.4" cy="745.5" r="3.75"/>
<circle cx="227.7" cy="740.6" r="3.75"/>
<circle cx="231.8" cy="737.9" r="3.75"/>
<circle cx="235.0" cy="735.8" r="3.75"/>
<circle cx="238.3" cy="733.3" r="3.75"/>
<circle cx="242.3" cy="733.3" r="3.75"/>
<circle cx="242.3" cy="727.7" r="3.75"/>
<circle cx="244.3" cy="724.7" r="3.75"/>
<circle cx="249.6" cy="726.0" r="3.75"/>
<circle cx="251.3" cy="721.2" r="3.75"/>
<circle cx="253.4" cy="719.1" r="3.75"/>
<circle cx="261.8" cy="716.0" r="3.75"/>
<circle cx="348.7" cy="703.8" r="3.75"/>
<circle cx="374.6" cy="702.8" r="3.75"/>
<circle cx="377.9" cy="702.5" r="3.75"/>
<circle cx="381.1" cy="701.7" r="3.75"/>
<circle cx="382.9" cy="694.1" r="3.75"/>
<circle cx="390.9" cy="691.9" r="3.75"/>
<circle cx="392.5" cy="687.9" r="3.75"/>
<circle cx="394.1" cy="684.6" r="3.75"/>
<circle cx="396.6" cy="680.6" r="3.75"/>
<circle cx="399.0" cy="679.0" r="3.75"/>
<circle cx="402.2" cy="679.8" r="3.75"/>
<circle cx="444.4" cy="679.4" r="3.75"/>
<circle cx="492.7" cy="676.9" r="3.75"/>
<circle cx="496.0" cy="676.1" r="3.75"/>
<circle cx="500.8" cy="672.0" r="3.75"/>
<circle cx="504.1" cy="670.4" r="3.75"/>
<circle cx="507.7" cy="668.3" r="3.75"/>
<circle cx="526.5" cy="667.2" r="3.75"/>
<circle cx="530.1" cy="657.1" r="3.75"/>
<circle cx="532.5" cy="656.6" r="3.75"/>
<circle cx="543.9" cy="655.8" r="3.75"/>
<circle cx="546.3" cy="654.2" r="3.75"/>
<circle cx="549.5" cy="653.1" r="3.75"/>
<circle cx="552.8" cy="651.8" r="3.75"/>
<circle cx="557.7" cy="639.1" r="3.75"/>
<circle cx="560.9" cy="638.0" r="3.75"/>
<circle cx="563.8" cy="636.3" r="3.75"/>
<circle cx="579.6" cy="631.9" r="3.75"/>
<circle cx="584.9" cy="622.2" r="3.75"/>
<circle cx="588.2" cy="620.9" r="3.75"/>
<circle cx="587.7" cy="614.1" r="3.75"/>
<circle cx="588.5" cy="607.6" r="3.75"/>
<circle cx="597.4" cy="604.7" r="3.75"/>
<circle cx="599.9" cy="602.7" r="3.75"/>
<circle cx="603.1" cy="601.4" r="3.75"/>
<circle cx="605.7" cy="600.3" r="3.75"/>
<circle cx="640.5" cy="597.4" r="3.75"/>
<circle cx="643.7" cy="596.2" r="3.75"/>
<circle cx="647.8" cy="594.1" r="3.75"/>
<circle cx="649.9" cy="586.8" r="3.75"/>
<circle cx="651.8" cy="584.4" r="3.75"/>
<circle cx="655.1" cy="581.9" r="3.75"/>
<circle cx="658.3" cy="579.5" r="3.75"/>
<circle cx="661.6" cy="578.2" r="3.75"/>
<circle cx="674.5" cy="577.6" r="3.75"/>
<circle cx="678.1" cy="574.2" r="3.75"/>
<circle cx="678.6" cy="577.9" r="3.75"/>
<circle cx="751.2" cy="573.5" r="3.75"/>
<circle cx="776.8" cy="573.0" r="3.75"/>
<circle cx="780.1" cy="570.6" r="3.75"/>
<circle cx="783.3" cy="568.1" r="3.75"/>
<circle cx="785.7" cy="562.5" r="3.75"/>
<circle cx="788.2" cy="544.6" r="3.75"/>
<circle cx="790.6" cy="542.2" r="3.75"/>
<circle cx="965.5" cy="509.6" r="3.75"/>
<circle cx="970.4" cy="510.4" r="3.75"/>
<circle cx="973.6" cy="508.0" r="3.75"/>
<circle cx="975.6" cy="505.5" r="3.75"/>
<circle cx="1003.7" cy="505.8" r="3.75"/>
<circle cx="1005.0" cy="493.0" r="3.75"/>
<circle cx="1007.2" cy="475.0" r="3.75"/>
<circle cx="1015.5" cy="474.7" r="3.75"/>
<circle cx="1036.9" cy="465.7" r="3.75"/>
<circle cx="1038.6" cy="462.2" r="3.75"/>
<circle cx="1060.2" cy="458.1" r="3.75"/>
<circle cx="1062.1" cy="455.5" r="3.75"/>
<circle cx="1074.3" cy="454.1" r="3.75"/>
<circle cx="1077.5" cy="455.2" r="3.75"/>
<circle cx="1080.0" cy="454.4" r="3.75"/>
<circle cx="1084.8" cy="448.7" r="3.75"/>
<circle cx="1087.3" cy="445.5" r="3.75"/>
<circle cx="1089.7" cy="447.1" r="3.75"/>
<circle cx="1090.5" cy="438.1" r="3.75"/>
<circle cx="1093.8" cy="433.3" r="3.75"/>
<circle cx="1110.8" cy="434.1" r="3.75"/>
<circle cx="1117.3" cy="430.8" r="3.75"/>
<circle cx="1123.0" cy="429.5" r="3.75"/>
<circle cx="1173.3" cy="427.6" r="3.75"/>
<circle cx="1180.6" cy="421.1" r="3.75"/>
<circle cx="1183.9" cy="418.7" r="3.75"/>
<circle cx="1187.1" cy="417.9" r="3.75"/>
<circle cx="1192.0" cy="417.0" r="3.75"/>
<circle cx="1196.9" cy="413.5" r="3.75"/>
<circle cx="1198.5" cy="415.4" r="3.75"/>
<circle cx="1248.8" cy="413.8" r="3.75"/>
<circle cx="1253.7" cy="411.4" r="3.75"/>
<circle cx="1253.6" cy="410.7" r="3.75"/>
<circle cx="1270.3" cy="408.4" r="3.75"/>
<circle cx="1273.5" cy="407.5" r="3.75"/>
<circle cx="1330.0" cy="406.8" r="3.75"/>
<circle cx="1383.1" cy="407.1" r="3.75"/>
<circle cx="1387.2" cy="404.7" r="3.75"/>
<circle cx="1391.2" cy="402.8" r="3.75"/>
<circle cx="1394.5" cy="403.9" r="3.75"/>
<circle cx="1398.1" cy="402.8" r="3.75"/>
<circle cx="1417.2" cy="403.1" r="3.75"/>
<circle cx="1420.5" cy="401.9" r="3.75"/>
<circle cx="1423.4" cy="398.7" r="3.75"/>
<circle cx="1439.1" cy="398.2" r="3.75"/>
<circle cx="1443.2" cy="399.0" r="3.75"/>
<circle cx="1446.4" cy="396.6" r="3.75"/>
<circle cx="1449.7" cy="395.8" r="3.75"/>
<circle cx="1456.2" cy="392.9" r="3.75"/>
<circle cx="1482.1" cy="390.1" r="3.75"/>
<circle cx="1485.4" cy="391.7" r="3.75"/>
<circle cx="1486.2" cy="386.9" r="3.75"/>
<circle cx="1492.7" cy="387.7" r="3.75"/>
<circle cx="1494.3" cy="382.8" r="3.75"/>
<circle cx="1497.1" cy="380.7" r="3.75"/>
<circle cx="1514.9" cy="379.9" r="3.75"/>
<circle cx="1538.1" cy="379.2" r="3.75"/>
<circle cx="1549.5" cy="376.3" r="3.75"/>
<circle cx="1551.9" cy="374.7" r="3.75"/>
<circle cx="1558.4" cy="375.5" r="3.75"/>
<circle cx="1560.4" cy="370.6" r="3.75"/>
<circle cx="1574.7" cy="364.1" r="3.75"/>
<circle cx="1577.6" cy="363.3" r="3.75"/>
<circle cx="1578.2" cy="356.8" r="3.75"/>
<circle cx="1582.0" cy="356.0" r="3.75"/>
<circle cx="1610.4" cy="355.2" r="3.75"/>
<circle cx="1625.8" cy="355.2" r="3.75"/>
<circle cx="1629.1" cy="352.8" r="3.75"/>
<circle cx="1632.3" cy="350.6" r="3.75"/>
<circle cx="1635.1" cy="348.7" r="3.75"/>
<circle cx="1661.9" cy="349.4" r="3.75"/>
<circle cx="1671.7" cy="338.8" r="3.75"/>
<circle cx="1678.1" cy="336.4" r="3.75"/>
<circle cx="1710.6" cy="335.6" r="3.75"/>
<circle cx="1713.9" cy="336.4" r="3.75"/>
<circle cx="1714.7" cy="331.2" r="3.75"/>
<circle cx="1717.9" cy="329.1" r="3.75"/>
<circle cx="1720.4" cy="326.6" r="3.75"/>
<circle cx="1722.8" cy="325.3" r="3.75"/>
<circle cx="1759.3" cy="325.0" r="3.75"/>
<circle cx="1768.2" cy="320.1" r="3.75"/>
<circle cx="1772.3" cy="319.3" r="3.75"/>
<circle cx="1775.6" cy="317.7" r="3.75"/>
<circle cx="1779.6" cy="316.9" r="3.75"/>
<circle cx="1786.9" cy="318.5" r="3.75"/>
<circle cx="1788.1" cy="315.6" r="3.75"/>
<circle cx="1908.2" cy="312.5" r="3.75"/>
<circle cx="1918.4" cy="308.8" r="3.75"/>
<circle cx="1920.8" cy="309.1" r="3.75"/>
<circle cx="1927.0" cy="308.0" r="3.75"/>
<circle cx="1928.1" cy="294.5" r="3.75"/>
<circle cx="1931.4" cy="294.2" r="3.75"/>
<circle cx="1931.4" cy="288.5" r="3.75"/>
<circle cx="1932.2" cy="283.6" r="3.75"/>
<circle cx="1939.8" cy="272.6" r="3.75"/>
<circle cx="1965.2" cy="256.5" r="3.75"/>
<circle cx="1968.7" cy="251.1" r="3.75"/>
<circle cx="1972.0" cy="251.1" r="3.75"/>
<circle cx="1976.0" cy="250.3" r="3.75"/>
<circle cx="1980.1" cy="250.3" r="3.75"/>
<circle cx="1984.2" cy="249.5" r="3.75"/>
<circle cx="1989.0" cy="249.5" r="3.75"/>
<circle cx="1992.3" cy="248.7" r="3.75"/>
<circle cx="1993.9" cy="243.0" r="3.75"/>
<circle cx="1995.5" cy="241.9" r="3.75"/>
<circle cx="2006.9" cy="242.5" r="3.75"/>
<circle cx="2010.1" cy="242.2" r="3.75"/>
<circle cx="2012.9" cy="237.0" r="3.75"/>
<circle cx="2045.0" cy="235.9" r="3.75"/>
<circle cx="2145.4" cy="236.3" r="3.75"/>
<circle cx="2148.0" cy="231.3" r="3.75"/>
<circle cx="2151.2" cy="231.0" r="3.75"/>
<circle cx="2173.0" cy="229.2" r="3.75"/>
<circle cx="2177.1" cy="228.3" r="3.75"/>
<circle cx="2180.6" cy="227.8" r="3.75"/>
<circle cx="2184.1" cy="226.6" r="3.75"/>
<circle cx="2187.7" cy="225.7" r="3.75"/>
<circle cx="2190.3" cy="225.3" r="3.75"/>
<circle cx="2200.9" cy="225.3" r="3.75"/>
<circle cx="2206.1" cy="225.3" r="3.75"/>
<circle cx="2209.7" cy="207.2" r="3.75"/>
<circle cx="2212.3" cy="199.6" r="3.75"/>
<circle cx="2215.8" cy="199.3" r="3.75"/>
<circle cx="2218.5" cy="200.1" r="3.75"/>
<circle cx="2229.0" cy="200.1" r="3.75"/>
<circle cx="2230.5" cy="196.1" r="3.75"/>
<circle cx="2238.7" cy="196.1" r="3.75"/>
<circle cx="2243.7" cy="190.1" r="3.75"/>
<circle cx="2243.5" cy="181.3" r="3.75"/>
<circle cx="2245.8" cy="176.7" r="3.75"/>
<circle cx="2249.3" cy="176.4" r="3.75"/>
<circle cx="2252.3" cy="177.2" r="3.75"/>
<circle cx="2257.2" cy="168.4" r="3.75"/>
<circle cx="2259.9" cy="166.7" r="3.75"/>
<circle cx="2271.3" cy="165.8" r="3.75"/>
<circle cx="2342.7" cy="164.0" r="3.75"/>
<circle cx="2354.5" cy="159.6" r="3.75"/>
<circle cx="2358.0" cy="159.1" r="3.75"/>
<circle cx="2362.0" cy="157.9" r="3.75"/>
<circle cx="2365.6" cy="156.5" r="3.75"/>
<circle cx="2430.7" cy="154.3" r="3.75"/>
<circle cx="2435.1" cy="153.8" r="3.75"/>
<circle cx="2440.4" cy="153.1" r="3.75"/>
<circle cx="2444.8" cy="149.1" r="3.75"/>
<circle cx="2447.5" cy="146.4" r="3.75"/>
<circle cx="2449.2" cy="143.8" r="3.75"/>
<circle cx="827.9" cy="535.8" r="3.75"/>
<circle cx="831.8" cy="530.0" r="3.75"/>
<circle cx="839.0" cy="529.4" r="3.75"/>
<circle cx="848.7" cy="524.8" r="3.75"/>
<circle cx="870.8" cy="520.9" r="3.75"/>
<circle cx="874.7" cy="518.3" r="3.75"/>
<circle cx="877.3" cy="513.8" r="3.75"/>
<circle cx="880.5" cy="510.5" r="3.75"/>
<circle cx="953.9" cy="510.5" r="3.75"/>
<circle cx="955.2" cy="513.1" r="3.75"/>
</g>
<path d="M83.6 761.8 L84.1 756.1 L87.3 755.6 L89.7 757.2 L93.8 757.2 L94.6 756.1 L98.7 755.6 L99.5 753.6 L102.7 754.4 L106.0 755.6 L107.9 752.0 L110.0 754.4 L117.3 755.3 L123.8 755.6 L125.5 757.2 L129.5 756.1 L136.8 757.2 L138.4 759.3 L140.9 758.2 L144.1 762.6 L147.9 764.2 L153.1 760.1 L157.9 760.1 L159.5 761.4 L162.8 761.4 L164.4 763.1 L170.9 763.1 L172.5 760.9 L175.8 760.9 L176.6 762.6 L183.1 762.6 L183.4 746.3 L190.4 746.8 L195.3 748.4 L199.3 752.3 L202.1 752.0 L202.6 755.3 L205.0 751.7 L207.4 753.6 L209.4 755.6 L211.8 752.0 L214.7 752.8 L217.2 749.6 L227.7 749.6 L228.1 741.5 L231.8 740.6 L233.4 737.7 L235.8 737.1 L237.5 735.0 L239.9 734.2 L241.5 730.9 L244.0 728.5 L245.6 726.0 L248.8 726.9 L250.5 724.4 L252.9 720.4 L255.3 722.0 L261.8 721.7 L262.1 716.3 L264.3 718.7 L274.8 718.7 L277.2 721.7 L281.3 721.7 L281.8 716.6 L295.1 716.6 L300.0 720.4 L303.2 716.0 L305.6 717.9 L311.3 722.5 L316.2 722.5 L320.3 725.2 L323.5 724.1 L326.8 724.1 L330.0 722.8 L334.9 724.1 L340.2 728.5 L341.0 722.0 L343.8 723.6 L347.9 723.1 L348.7 704.6 L352.7 706.6 L356.0 707.9 L359.2 707.4 L360.8 705.4 L373.8 705.7 L374.6 702.5 L378.7 703.3 L381.9 700.9 L382.9 694.4 L386.0 695.2 L390.1 697.6 L390.9 691.9 L393.3 688.7 L395.7 683.8 L398.2 679.8 L403.1 679.8 L411.2 681.4 L414.4 683.8 L417.7 687.1 L420.9 689.5 L427.4 689.2 L430.6 687.1 L431.0 684.2 L437.1 684.2 L441.2 687.1 L442.8 681.4 L444.8 679.3 L448.5 682.5 L456.6 683.5 L458.2 685.1 L466.4 686.3 L469.6 687.9 L470.0 687.1 L473.2 687.1 L474.5 681.0 L482.2 681.0 L484.6 682.6 L490.3 682.6 L491.9 678.5 L499.2 676.9 L500.8 672.9 L507.3 669.9 L509.8 669.1 L523.6 669.1 L526.0 669.9 L528.4 667.2 L529.7 658.2 L534.9 658.2 L539.0 660.7 L542.2 663.1 L543.9 659.9 L545.5 655.8 L551.2 654.2 L557.7 652.6 L558.0 640.4 L563.3 638.8 L565.8 636.3 L576.3 636.3 L578.8 638.0 L579.6 631.5 L583.6 633.9 L584.9 622.5 L588.5 620.9 L589.3 607.9 L594.2 611.2 L596.6 611.2 L599.9 605.5 L604.7 602.2 L605.1 607.9 L605.7 601.4 L612.9 603.1 L621.8 602.2 L623.4 600.9 L625.8 602.7 L635.6 602.7 L639.6 600.6 L641.3 597.4 L644.5 596.6 L648.6 594.1 L650.2 588.4 L652.6 585.2 L656.7 582.8 L661.6 579.2 L671.3 579.5 L673.7 580.0 L676.2 576.3 L678.6 574.6 L681.0 576.8 L690.8 577.1 L694.0 577.9 L703.0 577.9 L704.6 580.3 L708.6 581.1 L710.3 579.2 L716.8 580.6 L722.4 581.1 L724.1 582.8 L730.6 582.4 L735.4 579.5 L740.3 580.0 L742.7 579.2 L751.7 578.7 L752.1 574.6 L759.8 575.1 L761.4 577.6 L765.5 578.7 L768.7 575.9 L776.0 575.5 L777.6 573.0 L780.9 570.6 L784.1 568.1 L785.7 563.3 L787.9 562.5 L788.5 546.2 L790.6 542.2 L794.7 542.7 L799.5 545.1 L808.5 545.1 L809.3 546.2 L810.9 544.6 L815.8 545.4 L824.7 544.3 L827.6 544.0 L827.9 535.8 L830.5 533.6 L832.1 530.6 L835.1 531.9 L839.0 530.0 L848.7 529.4 L849.4 525.1 L855.2 528.7 L858.4 527.1 L861.7 529.4 L868.2 529.4 L871.4 528.1 L871.8 521.6 L875.3 522.2 L876.0 517.0 L877.9 513.8 L880.5 513.8 L881.2 511.2 L884.1 514.1 L890.9 514.1 L894.2 512.1 L900.6 513.4 L903.9 514.7 L905.8 517.3 L907.1 516.0 L910.4 516.0 L910.7 519.3 L913.3 519.3 L914.3 517.3 L916.9 519.6 L922.7 519.6 L924.0 521.6 L930.5 520.6 L931.8 517.0 L933.8 517.0 L935.1 519.3 L937.0 519.3 L938.3 516.0 L942.9 517.7 L945.5 517.0 L948.7 513.8 L952.6 513.1 L953.2 511.2 L960.0 511.2 L962.3 511.2 L964.7 514.0 L966.3 509.6 L970.4 511.2 L972.0 508.8 L974.4 509.6 L976.1 506.3 L980.1 507.5 L988.2 506.8 L990.7 508.4 L994.7 508.8 L997.2 509.6 L1000.4 509.6 L1002.9 507.1 L1005.3 506.3 L1005.8 493.3 L1006.9 476.3 L1010.2 475.0 L1011.8 476.3 L1027.2 476.0 L1029.6 477.9 L1036.6 477.9 L1036.9 466.6 L1038.6 462.5 L1039.4 464.9 L1041.0 462.0 L1043.4 462.5 L1045.9 465.7 L1047.5 469.0 L1049.1 463.3 L1054.0 463.8 L1055.6 465.4 L1059.7 465.4 L1060.2 458.4 L1062.9 456.0 L1074.3 456.0 L1075.9 454.4 L1084.8 454.1 L1086.5 449.5 L1089.7 447.1 L1090.5 439.8 L1093.8 438.1 L1094.6 434.1 L1097.8 436.0 L1101.9 436.0 L1102.7 437.8 L1106.8 437.8 L1108.4 434.1 L1114.9 433.6 L1118.1 430.8 L1119.7 433.3 L1123.0 430.0 L1129.5 430.8 L1130.3 432.0 L1132.7 433.0 L1141.7 432.5 L1144.9 434.1 L1152.2 433.6 L1154.6 434.6 L1156.3 436.9 L1163.6 436.5 L1166.8 435.7 L1173.0 435.2 L1173.6 429.2 L1179.8 427.6 L1180.6 421.9 L1186.3 420.3 L1192.8 417.9 L1197.7 415.4 L1199.3 414.6 L1209.0 414.9 L1210.6 417.9 L1217.1 417.5 L1218.8 416.7 L1221.2 418.3 L1223.6 415.4 L1230.9 414.9 L1232.6 416.7 L1236.6 417.4 L1246.4 415.7 L1249.6 414.9 L1253.7 412.7 L1256.9 411.7 L1260.0 412.2 L1263.8 413.6 L1265.4 416.9 L1267.0 413.6 L1269.8 414.4 L1270.3 408.8 L1273.5 408.4 L1277.6 410.4 L1284.9 412.0 L1289.8 412.0 L1291.4 410.7 L1294.6 412.8 L1297.9 412.8 L1300.3 415.3 L1304.4 415.6 L1309.3 412.8 L1314.9 410.9 L1321.4 410.9 L1323.9 412.8 L1328.7 412.0 L1330.4 407.1 L1334.4 408.0 L1338.5 410.4 L1344.2 410.4 L1348.2 412.0 L1350.6 410.4 L1357.1 410.1 L1358.8 411.2 L1362.8 411.2 L1364.4 408.3 L1371.8 408.3 L1375.0 407.5 L1380.7 409.6 L1382.3 407.1 L1388.0 405.5 L1392.0 403.1 L1399.4 403.1 L1405.8 404.7 L1412.3 407.1 L1415.6 409.6 L1416.4 403.9 L1421.3 403.1 L1423.7 399.8 L1425.3 401.5 L1436.7 401.0 L1439.1 399.0 L1444.0 398.2 L1448.9 395.8 L1453.7 395.0 L1456.2 392.9 L1460.2 394.2 L1465.1 396.6 L1470.8 396.9 L1474.0 394.6 L1478.9 394.6 L1481.3 392.5 L1485.4 391.7 L1486.2 387.7 L1493.5 387.3 L1494.3 389.6 L1495.9 382.8 L1497.6 381.2 L1500.8 382.8 L1509.7 384.4 L1511.4 382.8 L1514.6 381.2 L1519.5 383.9 L1523.5 384.7 L1525.2 382.0 L1529.2 383.3 L1535.7 381.2 L1538.1 380.0 L1541.4 381.7 L1548.7 381.2 L1550.3 377.1 L1555.2 375.5 L1559.3 376.3 L1560.9 370.9 L1574.4 370.9 L1575.2 377.1 L1575.6 364.1 L1577.9 361.7 L1578.7 357.6 L1582.8 356.8 L1586.9 359.3 L1592.5 361.7 L1595.8 360.9 L1600.6 363.3 L1606.3 365.7 L1608.0 364.9 L1608.8 358.4 L1611.2 356.0 L1614.4 356.8 L1621.8 356.0 L1625.0 357.1 L1628.2 354.4 L1632.3 351.9 L1635.6 349.5 L1638.8 350.3 L1644.5 351.6 L1650.0 351.1 L1652.2 350.2 L1656.2 351.0 L1661.1 351.8 L1662.7 349.4 L1666.8 351.0 L1671.7 351.8 L1672.5 338.8 L1676.5 339.6 L1678.1 336.4 L1681.4 338.0 L1688.7 340.4 L1695.2 341.2 L1702.5 341.6 L1704.9 339.6 L1708.2 337.2 L1714.7 336.4 L1717.1 332.3 L1719.5 328.2 L1722.8 326.6 L1728.5 326.6 L1733.3 329.1 L1743.9 329.4 L1750.4 330.2 L1753.6 329.9 L1755.3 326.6 L1759.3 325.8 L1769.1 325.3 L1769.9 320.9 L1774.7 319.3 L1779.6 317.7 L1785.3 318.5 L1787.7 316.1 L1791.8 316.6 L1796.7 319.3 L1804.0 319.8 L1808.8 321.4 L1813.7 320.9 L1817.8 324.2 L1823.4 324.2 L1825.1 321.4 L1828.3 322.1 L1832.4 324.7 L1837.2 326.6 L1842.9 326.3 L1844.5 324.2 L1848.6 324.7 L1855.1 322.6 L1861.6 325.0 L1863.2 327.8 L1868.9 327.4 L1871.3 325.5 L1876.2 324.7 L1879.4 326.3 L1881.1 320.5 L1886.8 322.1 L1891.6 320.9 L1895.7 322.1 L1898.9 325.3 L1901.4 325.0 L1902.2 322.1 L1907.0 321.8 L1907.9 316.1 L1910.3 313.6 L1916.0 316.1 L1918.4 311.2 L1921.7 310.4 L1924.1 311.2 L1927.3 310.4 L1929.0 294.2 L1931.4 293.3 L1932.2 283.6 L1935.5 285.2 L1939.2 285.2 L1939.8 273.4 L1941.9 275.5 L1951.7 275.5 L1956.6 279.1 L1960.6 279.1 L1961.4 277.1 L1963.9 278.7 L1965.5 256.0 L1968.7 256.8 L1970.4 250.3 L1974.4 253.6 L1976.9 251.9 L1978.5 253.2 L1980.9 251.6 L1988.2 251.1 L1989.0 255.2 L1992.3 255.5 L1993.1 243.8 L1995.5 243.0 L2000.4 248.7 L2002.0 245.5 L2004.1 249.5 L2005.3 243.8 L2009.3 242.5 L2013.4 241.9 L2014.2 238.1 L2016.6 239.4 L2023.1 239.3 L2025.6 241.4 L2028.8 239.0 L2034.5 241.4 L2040.0 243.0 L2043.2 240.7 L2045.9 236.3 L2051.1 238.0 L2052.0 241.5 L2055.5 245.1 L2059.9 245.4 L2060.8 248.6 L2064.3 250.0 L2066.1 253.0 L2067.0 246.8 L2072.3 248.2 L2078.4 248.6 L2080.2 247.7 L2082.8 249.5 L2089.0 249.5 L2090.8 250.7 L2094.3 250.4 L2095.2 247.2 L2099.6 247.2 L2101.3 245.9 L2104.0 248.2 L2109.3 250.4 L2113.7 248.2 L2118.1 246.8 L2123.4 247.2 L2126.0 248.9 L2126.9 245.6 L2138.3 245.4 L2141.0 244.2 L2144.5 246.5 L2146.3 237.1 L2148.9 231.9 L2152.4 231.9 L2156.8 234.5 L2160.4 234.8 L2163.9 232.7 L2166.5 233.6 L2172.7 233.6 L2173.6 230.1 L2181.5 228.9 L2188.5 226.6 L2192.1 226.2 L2195.6 230.1 L2197.7 231.9 L2199.1 226.6 L2209.3 225.7 L2210.0 207.2 L2212.3 200.1 L2219.4 200.1 L2220.2 201.0 L2229.0 200.5 L2230.8 196.1 L2234.3 196.6 L2239.6 197.5 L2243.1 198.4 L2244.0 189.6 L2244.9 180.8 L2248.4 177.2 L2251.1 178.1 L2253.7 176.7 L2257.2 179.0 L2258.1 171.1 L2259.9 167.6 L2261.6 170.7 L2268.7 170.7 L2271.3 166.7 L2276.6 166.7 L2277.5 169.9 L2281.9 170.2 L2286.3 173.2 L2288.9 171.1 L2295.1 171.1 L2297.7 174.3 L2303.0 178.1 L2307.4 178.7 L2310.1 180.8 L2312.7 178.1 L2317.1 178.7 L2319.8 184.3 L2330.3 184.3 L2330.9 174.6 L2334.7 174.3 L2337.4 175.5 L2338.6 169.3 L2341.8 169.0 L2343.5 165.8 L2355.0 165.4 L2355.9 161.4 L2361.2 160.5 L2363.8 158.8 L2368.2 157.9 L2370.8 160.2 L2372.6 159.1 L2373.5 161.4 L2374.9 157.5 L2380.5 158.8 L2384.9 160.2 L2393.7 160.5 L2395.5 164.0 L2398.2 165.4 L2399.9 163.7 L2402.6 165.4 L2408.7 165.3 L2409.6 159.6 L2413.1 159.6 L2415.8 161.4 L2420.2 159.6 L2429.0 160.2 L2430.7 156.1 L2440.4 154.3 L2444.8 151.7 L2447.5 148.2 L2450.1 144.7 L2452.2 146.4" fill="none" stroke="#3030f0" stroke-width="1.6" stroke-linejoin="round"/>
<g font-family="Liberation Sans, sans-serif" font-size="12.6" fill="#111" letter-spacing="0.35">
<text x="74.5" y="765.9" text-anchor="end">0</text>
<text x="74.5" y="727.5" text-anchor="end">500</text>
<text x="74.5" y="689.0" text-anchor="end">1,000</text>
<text x="74.5" y="650.6" text-anchor="end">1,500</text>
<text x="74.5" y="612.2" text-anchor="end">2,000</text>
<text x="74.5" y="573.7" text-anchor="end">2,500</text>
<text x="74.5" y="535.3" text-anchor="end">3,000</text>
<text x="74.5" y="496.9" text-anchor="end">3,500</text>
<text x="74.5" y="458.4" text-anchor="end">4,000</text>
<text x="74.5" y="420.0" text-anchor="end">4,500</text>
<text x="74.5" y="381.6" text-anchor="end">5,000</text>
<text x="74.5" y="343.2" text-anchor="end">5,500</text>
<text x="74.5" y="304.7" text-anchor="end">6,000</text>
<text x="74.5" y="266.3" text-anchor="end">6,500</text>
<text x="74.5" y="227.9" text-anchor="end">7,000</text>
<text x="74.5" y="189.4" text-anchor="end">7,500</text>
<text x="74.5" y="151.0" text-anchor="end">8,000</text>
<text x="74.5" y="806.9" text-anchor="end">0</text>
<text x="74.5" y="834.2" text-anchor="end">-50</text>
<text x="74.5" y="861.4" text-anchor="end">-100</text>
<text x="74.5" y="888.7" text-anchor="end">-150</text>
<text x="74.5" y="915.9" text-anchor="end">-200</text>
<text x="151.6" y="955" text-anchor="middle">Jul-2010</text>
<text x="225.5" y="955" text-anchor="middle">Jan-2011</text>
<text x="298.2" y="955" text-anchor="middle">Jul-2011</text>
<text x="372.0" y="955" text-anchor="middle">Jan-2012</text>
<text x="445.1" y="955" text-anchor="middle">Jul-2012</text>
<text x="519.0" y="955" text-anchor="middle">Jan-2013</text>
<text x="591.7" y="955" text-anchor="middle">Jul-2013</text>
<text x="665.5" y="955" text-anchor="middle">Jan-2014</text>
<text x="738.2" y="955" text-anchor="middle">Jul-2014</text>
<text x="812.1" y="955" text-anchor="middle">Jan-2015</text>
<text x="884.8" y="955" text-anchor="middle">Jul-2015</text>
<text x="958.7" y="955" text-anchor="middle">Jan-2016</text>
<text x="1031.7" y="955" text-anchor="middle">Jul-2016</text>
<text x="1105.6" y="955" text-anchor="middle">Jan-2017</text>
<text x="1178.3" y="955" text-anchor="middle">Jul-2017</text>
<text x="1252.2" y="955" text-anchor="middle">Jan-2018</text>
<text x="1324.8" y="955" text-anchor="middle">Jul-2018</text>
<text x="1398.7" y="955" text-anchor="middle">Jan-2019</text>
<text x="1471.4" y="955" text-anchor="middle">Jul-2019</text>
<text x="1545.3" y="955" text-anchor="middle">Jan-2020</text>
<text x="1618.3" y="955" text-anchor="middle">Jul-2020</text>
<text x="1692.2" y="955" text-anchor="middle">Jan-2021</text>
<text x="1764.9" y="955" text-anchor="middle">Jul-2021</text>
<text x="1838.8" y="955" text-anchor="middle">Jan-2022</text>
<text x="1911.5" y="955" text-anchor="middle">Jul-2022</text>
<text x="1985.3" y="955" text-anchor="middle">Jan-2023</text>
<text x="2058.0" y="955" text-anchor="middle">Jul-2023</text>
<text x="2131.9" y="955" text-anchor="middle">Jan-2024</text>
<text x="2205.0" y="955" text-anchor="middle">Jul-2024</text>
<text x="2278.8" y="955" text-anchor="middle">Jan-2025</text>
<text x="2351.5" y="955" text-anchor="middle">Jul-2025</text>
<text x="2425.4" y="955" text-anchor="middle">Jan-2026</text>
</g>
<g font-family="Liberation Sans, sans-serif" font-size="14" fill="#1a1a1a" letter-spacing="0.3">
<text transform="translate(30 454) rotate(-90)" text-anchor="middle">Equity ($)</text>
<text transform="translate(37 870.5) rotate(-90)" text-anchor="middle" letter-spacing="0.7">Drawdown ($)</text>
</g>
<text x="1780.6" y="128.8" font-family="Liberation Sans, sans-serif" font-size="11.7" fill="#ff8686" textLength="134.4" lengthAdjust="spacing">Max stagnation: 301 days</text>
<g stroke="#5c5c5c" stroke-width="1.2" fill="#5c5c5c"><path d="M502.1 74 V91.2" fill="none"/><path d="M502.1 72.4 l-2.1 3 h4.2z" stroke="none"/><path d="M498.8 88.3 H521.6" fill="none"/><path d="M523.8 88.3 l-2.8 -2 v4z" stroke="none"/><path d="M505.9 86.8 v3" fill="none" stroke-width="1"/><path d="M508.1 86.8 v3" fill="none" stroke-width="1"/><path d="M510.3 86.8 v3" fill="none" stroke-width="1"/><path d="M512.5 86.8 v3" fill="none" stroke-width="1"/><path d="M514.7 86.8 v3" fill="none" stroke-width="1"/><path d="M516.9 86.8 v3" fill="none" stroke-width="1"/><path d="M519.1 86.8 v3" fill="none" stroke-width="1"/></g><path d="M502.1 87.9 L505.6 81.2 L507.9 81.6 L511.0 84.1 L517.9 76.5 L520.2 76.7 L522.0 78.5" fill="none" stroke="#2d7bd1" stroke-width="1.5" stroke-linejoin="round" stroke-linecap="round" /><text x="497.6" y="97.2" font-family="Liberation Sans, sans-serif" font-weight="bold" font-size="9.4" fill="#2d7bd1" letter-spacing="-0.2">trades</text>
<g stroke="#5c5c5c" stroke-width="1.2" fill="#5c5c5c"><path d="M539.5 74 V91.2" fill="none"/><path d="M539.5 72.4 l-2.1 3 h4.2z" stroke="none"/><path d="M536.2 88.3 H559.0" fill="none"/><path d="M561.2 88.3 l-2.8 -2 v4z" stroke="none"/><path d="M543.3 86.8 v3" fill="none" stroke-width="1"/><path d="M545.5 86.8 v3" fill="none" stroke-width="1"/><path d="M547.7 86.8 v3" fill="none" stroke-width="1"/><path d="M549.9 86.8 v3" fill="none" stroke-width="1"/><path d="M552.1 86.8 v3" fill="none" stroke-width="1"/><path d="M554.3 86.8 v3" fill="none" stroke-width="1"/><path d="M556.5 86.8 v3" fill="none" stroke-width="1"/></g><path d="M539.5 87.9 L543.0 81.2 L545.3 81.6 L548.4 84.1 L555.3 76.5 L557.6 76.7 L559.4 78.5" fill="none" stroke="#2d7bd1" stroke-width="1.5" stroke-linejoin="round" stroke-linecap="round" /><text x="540.6" y="97.2" font-family="Liberation Sans, sans-serif" font-weight="bold" font-size="9.4" fill="#2d7bd1" letter-spacing="-0.2">time</text>
<g opacity="0.35"><g stroke="#d0d0d0" stroke-width="1.0" fill="#d0d0d0"><path d="M673.2 74.2 V97.3 M670.0 94.3 H692.2" fill="none"/><path d="M673.2 72.6 l-2.2 3 h4.4z" stroke="none"/><path d="M693.8 94.3 l-3 -2.2 v4.4z" stroke="none"/></g><path d="M671.5 90.5 L676.0 83.5 L680.0 83.0 L683.0 85.7 L689.5 77.6 L692.0 78.0" fill="none" stroke="#d8d8d8" stroke-width="1.3" stroke-linejoin="round" stroke-linecap="round" /></g>
<g stroke="#5c5c5c" stroke-width="1.3" fill="#5c5c5c"><path d="M805.4 74.5 V97.3 M802.4 88.1 H827 M802.4 94.3 H826" fill="none"/><path d="M805.4 72.6 l-2.2 3 h4.4z" stroke="none"/><path d="M827.6 94.3 l-3 -2.2 v4.4z" stroke="none"/></g><text x="812" y="85.2" font-family="Liberation Sans, sans-serif" font-weight="bold" font-size="13.2" fill="#f0202a">$</text><path d="M810.8 88.9 h9.4 l-4.7 4.2z M806 88.9 h2.2 l-2.2 1.5z M824 88.9 h2.4 v2.4z" fill="#f0202a"/><path d="M836.0 82.6 h7.6 l-3.8 6.4z" fill="#777"/>
<g stroke="#5c5c5c" stroke-width="1.3" fill="#5c5c5c"><path d="M930.4 74.5 V97.3 M927.4 88.1 H952 M927.4 94.3 H951" fill="none"/><path d="M930.4 72.6 l-2.2 3 h4.4z" stroke="none"/><path d="M952.6 94.3 l-3 -2.2 v4.4z" stroke="none"/></g><text x="932.2" y="82.6" font-family="Liberation Sans, sans-serif" font-size="9.6" fill="#2d7bd1" letter-spacing="0.55">auto</text><path d="M932.6 93.6 v-3.5 M934.6 93.6 v-4.0 M936.7 93.6 v-4.0 M938.8 93.6 v-3.5 M940.8 93.6 v-4.2 M942.9 93.6 v-4.0 M944.9 93.6 v-3.0 M947.0 93.6 v-4.0 M949.0 93.6 v-2.5 M951.1 93.6 v-4.0 " stroke="#2d7bd1" stroke-width="1.5" fill="none"/><path d="M961.0 82.6 h7.6 l-3.8 6.4z" fill="#777"/>
<rect x="1125" y="73" width="6.2" height="21" fill="#f8c4c8"/><g stroke="#5c5c5c" stroke-width="1.3" fill="#5c5c5c"><path d="M1119.2 74.2 V97.3 M1116.0 94.3 H1140.2" fill="none"/><path d="M1119.2 72.6 l-2.2 3 h4.4z" stroke="none"/><path d="M1141.8 94.3 l-3 -2.2 v4.4z" stroke="none"/></g><text x="1122.6" y="92.4" font-family="Liberation Sans, sans-serif" font-weight="bold" font-size="13" fill="#d23c3c" fill-opacity="0.85" letter-spacing="0.2">all</text><path d="M1117.4 90.6 L1122.3 83.4 L1126.3 83.0 L1129.5 85.7 L1135.7 77.6 L1138.4 78.0 L1139.7 79.4" fill="none" stroke="#2d7bd1" stroke-width="1.6" stroke-linejoin="round" stroke-linecap="round" /><path d="M1150.0 82.6 h7.6 l-3.8 6.4z" fill="#777"/>
<path d="M1204.5 73 V94 M1210.6 73 V94 M1217 73 V94" stroke="#8a8a8a" stroke-width="0.9" fill="none"/><g stroke="#5c5c5c" stroke-width="1.3" fill="#5c5c5c"><path d="M1198.0 74.2 V97.3 M1194.8 94.3 H1219.0" fill="none"/><path d="M1198.0 72.6 l-2.2 3 h4.4z" stroke="none"/><path d="M1220.6 94.3 l-3 -2.2 v4.4z" stroke="none"/></g><path d="M1196.2 90.6 L1201.3 83.2 L1204.6 83.0 L1208.0 85.6 L1214.5 77.6 L1217.0 77.8 L1218.6 79.3" fill="none" stroke="#2d7bd1" stroke-width="1.6" stroke-linejoin="round" stroke-linecap="round" />
<g stroke="#5c5c5c" stroke-width="1.3" fill="#5c5c5c"><path d="M1235.4 74.2 V97.3 M1232.2 94.3 H1256.4" fill="none"/><path d="M1235.4 72.6 l-2.2 3 h4.4z" stroke="none"/><path d="M1258.0 94.3 l-3 -2.2 v4.4z" stroke="none"/></g><path d="M1235.6 90.6 L1256.6 78.6" fill="none" stroke="#f24848" stroke-width="1.5" stroke-linejoin="round" stroke-linecap="round" /><path d="M1233.8 90.4 L1239.0 82.6 L1242.6 82.6 L1245.0 85.6 L1251.6 77.6 L1254.0 77.8 L1255.6 79.0" fill="none" stroke="#2d7bd1" stroke-width="1.6" stroke-linejoin="round" stroke-linecap="round" />
<g stroke="#5c5c5c" stroke-width="1.3" fill="#5c5c5c"><path d="M1296.8 74.2 V97.3 M1293.6 94.3 H1317.8" fill="none"/><path d="M1296.8 72.6 l-2.2 3 h4.4z" stroke="none"/><path d="M1319.4 94.3 l-3 -2.2 v4.4z" stroke="none"/></g><path d="M1294.8 90.6 L1300.6 83.0 L1303.4 83.0 L1306.6 85.6 L1312.8 77.8 L1315.4 78.0 L1317.0 79.6" fill="none" stroke="#2d7bd1" stroke-width="1.6" stroke-linejoin="round" stroke-linecap="round" /><circle cx="1297.9" cy="88.2" r="1.7" fill="#14e614"/><circle cx="1300.6" cy="83.1" r="1.7" fill="#14e614"/><circle cx="1309.1" cy="81.6" r="1.7" fill="#14e614"/><circle cx="1313.0" cy="77.9" r="1.7" fill="#14e614"/><path d="M1327.7 82.6 h7.6 l-3.8 6.4z" fill="#777"/>
<g stroke="#5c5c5c" stroke-width="1.3" fill="#5c5c5c"><path d="M1376.9 73.2 V96.3 M1373.7 93.3 H1397.9" fill="none"/><path d="M1376.9 71.6 l-2.2 3 h4.4z" stroke="none"/><path d="M1399.5 93.3 l-3 -2.2 v4.4z" stroke="none"/></g><path d="M1374.6 88.6 L1377.0 84.6 L1377.2 80.5 L1385.0 81.2" fill="none" stroke="#6da4e0" stroke-width="1.2" stroke-linejoin="round" stroke-linecap="round" stroke-dasharray="1.4 1.4" opacity="0.8"/><path d="M1375.0 86.0 L1380.0 85.6 L1386.6 86.6 L1389.6 90.0 L1393.0 88.4 L1398.0 85.4" fill="none" stroke="#9a9a9a" stroke-width="1.1" stroke-linejoin="round" stroke-linecap="round" stroke-dasharray="1.4 1.2" opacity="0.85"/><path d="M1386.5 83.9 L1392.3 76.7 L1395.0 76.3 L1397.2 78.1" fill="none" stroke="#2d7bd1" stroke-width="1.7" stroke-linejoin="round" stroke-linecap="round" />
<g stroke="#5c5c5c" stroke-width="1.3" fill="#5c5c5c"><path d="M1416.9 74.2 V97.3 M1413.7 94.3 H1437.9" fill="none"/><path d="M1416.9 72.6 l-2.2 3 h4.4z" stroke="none"/><path d="M1439.5 94.3 l-3 -2.2 v4.4z" stroke="none"/></g><path d="M1413.8 85.2 L1420.9 78.1 L1424.9 79.0 L1432.9 71.8 L1438.3 74.1" fill="none" stroke="#2c9a35" stroke-width="1.6" stroke-linejoin="round" stroke-linecap="round" /><path d="M1415.1 90.1 L1421.8 83.0 L1426.3 84.8 L1433.4 78.1 L1437.0 79.0" fill="none" stroke="#2d7bd1" stroke-width="1.6" stroke-linejoin="round" stroke-linecap="round" /><path d="M1414.6 94.1 L1422.7 87.9 L1426.7 90.1 L1434.3 83.0 L1437.0 85.7" fill="none" stroke="#f02828" stroke-width="1.6" stroke-linejoin="round" stroke-linecap="round" />
<path d="M1196.2 976.4 h8 l-4 -7.2z M1258.7 969.2 h7.6 l-3.8 7.2z" fill="#7d7d7d"/>
<path d="M1214.0 971.8 l1.4 1.4 l1.4 -1.4M1224.0 971.8 l1.4 1.4 l1.4 -1.4M1234.4 971.8 l1.4 1.4 l1.4 -1.4M1244.3 971.8 l1.4 1.4 l1.4 -1.4" fill="none" stroke="#b4b4b4" stroke-width="1"/>
<g font-weight="bold" opacity="0.8">
<text x="1977.5" y="809.5" font-family="Noto Sans CJK SC, sans-serif" font-size="56" textLength="448" lengthAdjust="spacingAndGlyphs" fill="#4a4a4a" stroke="#4a4a4a" stroke-width="0.9">一掌金外汇资源网</text>
<text x="1975" y="807" font-family="Noto Sans CJK SC, sans-serif" font-size="56" textLength="448" lengthAdjust="spacingAndGlyphs" fill="#ecff22" stroke="#ecff22" stroke-width="0.9">一掌金外汇资源网</text>
</g>
<g font-weight="bold" opacity="0.78">
<text x="1996.5" y="888" font-family="Liberation Sans, sans-serif" font-size="61" textLength="424" lengthAdjust="spacingAndGlyphs" fill="#5a5a5a" stroke="#5a5a5a" stroke-width="1.3" stroke-linejoin="round">yizhangjin.com</text>
<text x="1994" y="885.5" font-family="Liberation Sans, sans-serif" font-size="61" textLength="424" lengthAdjust="spacingAndGlyphs" fill="#e82020" stroke="#e82020" stroke-width="1.3" stroke-linejoin="round">yizhangjin.com</text>
</g>
</svg>
</body></html>
